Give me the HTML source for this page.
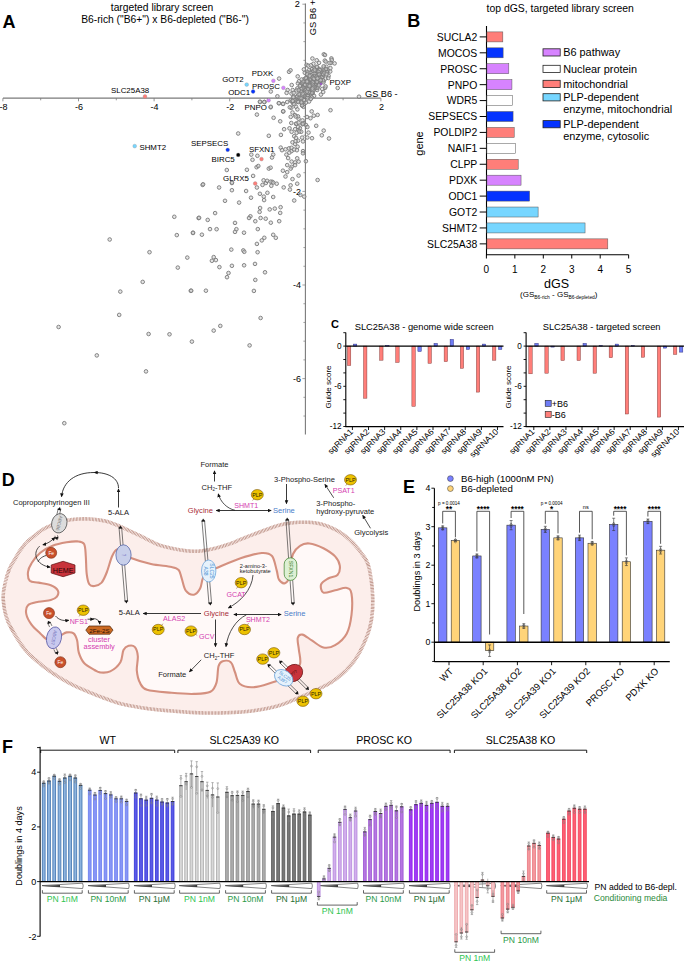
<!DOCTYPE html>
<html><head><meta charset="utf-8"><style>
html,body{margin:0;padding:0;background:#fff;}
svg{display:block;font-family:"Liberation Sans",sans-serif;}
</style></head><body>
<svg width="685" height="962" viewBox="0 0 685 962"><defs><marker id="ah" viewBox="0 0 10 10" refX="8" refY="5" markerUnits="userSpaceOnUse" markerWidth="4" markerHeight="4" orient="auto-start-reverse"><path d="M0,0.5 L10,5 L0,9.5z" fill="#111"/></marker></defs>
<text x="2.50" y="27.60" font-size="18" text-anchor="start" fill="#000" font-weight="bold" >A</text>
<text x="162.00" y="10.60" font-size="10.3" text-anchor="middle" fill="#000" font-weight="normal" >targeted library screen</text>
<text x="165.00" y="23.10" font-size="10.3" text-anchor="middle" fill="#000" font-weight="normal" >B6-rich ("B6+") x B6-depleted ("B6-")</text>
<line x1="3.00" y1="98.10" x2="380.70" y2="98.10" stroke="#7a7a7a" stroke-width="1.1" />
<line x1="305.40" y1="3.60" x2="305.40" y2="434.50" stroke="#7a7a7a" stroke-width="1.1" />
<line x1="2.90" y1="98.10" x2="2.90" y2="101.30" stroke="#7a7a7a" stroke-width="0.8" />
<line x1="40.70" y1="98.10" x2="40.70" y2="100.30" stroke="#7a7a7a" stroke-width="0.8" />
<line x1="78.50" y1="98.10" x2="78.50" y2="101.30" stroke="#7a7a7a" stroke-width="0.8" />
<line x1="116.30" y1="98.10" x2="116.30" y2="100.30" stroke="#7a7a7a" stroke-width="0.8" />
<line x1="154.10" y1="98.10" x2="154.10" y2="101.30" stroke="#7a7a7a" stroke-width="0.8" />
<line x1="191.90" y1="98.10" x2="191.90" y2="100.30" stroke="#7a7a7a" stroke-width="0.8" />
<line x1="229.70" y1="98.10" x2="229.70" y2="101.30" stroke="#7a7a7a" stroke-width="0.8" />
<line x1="267.50" y1="98.10" x2="267.50" y2="100.30" stroke="#7a7a7a" stroke-width="0.8" />
<line x1="343.10" y1="98.10" x2="343.10" y2="100.30" stroke="#7a7a7a" stroke-width="0.8" />
<line x1="380.90" y1="98.10" x2="380.90" y2="101.30" stroke="#7a7a7a" stroke-width="0.8" />
<line x1="303.40" y1="416.04" x2="305.40" y2="416.04" stroke="#7a7a7a" stroke-width="0.7" />
<line x1="303.40" y1="397.32" x2="305.40" y2="397.32" stroke="#7a7a7a" stroke-width="0.7" />
<line x1="302.40" y1="378.60" x2="305.40" y2="378.60" stroke="#7a7a7a" stroke-width="0.7" />
<line x1="303.40" y1="359.88" x2="305.40" y2="359.88" stroke="#7a7a7a" stroke-width="0.7" />
<line x1="303.40" y1="341.16" x2="305.40" y2="341.16" stroke="#7a7a7a" stroke-width="0.7" />
<line x1="303.40" y1="322.44" x2="305.40" y2="322.44" stroke="#7a7a7a" stroke-width="0.7" />
<line x1="303.40" y1="303.72" x2="305.40" y2="303.72" stroke="#7a7a7a" stroke-width="0.7" />
<line x1="302.40" y1="285.00" x2="305.40" y2="285.00" stroke="#7a7a7a" stroke-width="0.7" />
<line x1="303.40" y1="266.28" x2="305.40" y2="266.28" stroke="#7a7a7a" stroke-width="0.7" />
<line x1="303.40" y1="247.56" x2="305.40" y2="247.56" stroke="#7a7a7a" stroke-width="0.7" />
<line x1="303.40" y1="228.84" x2="305.40" y2="228.84" stroke="#7a7a7a" stroke-width="0.7" />
<line x1="303.40" y1="210.12" x2="305.40" y2="210.12" stroke="#7a7a7a" stroke-width="0.7" />
<line x1="302.40" y1="191.40" x2="305.40" y2="191.40" stroke="#7a7a7a" stroke-width="0.7" />
<line x1="303.40" y1="172.68" x2="305.40" y2="172.68" stroke="#7a7a7a" stroke-width="0.7" />
<line x1="303.40" y1="153.96" x2="305.40" y2="153.96" stroke="#7a7a7a" stroke-width="0.7" />
<line x1="303.40" y1="135.24" x2="305.40" y2="135.24" stroke="#7a7a7a" stroke-width="0.7" />
<line x1="303.40" y1="116.52" x2="305.40" y2="116.52" stroke="#7a7a7a" stroke-width="0.7" />
<line x1="303.40" y1="79.08" x2="305.40" y2="79.08" stroke="#7a7a7a" stroke-width="0.7" />
<line x1="303.40" y1="60.36" x2="305.40" y2="60.36" stroke="#7a7a7a" stroke-width="0.7" />
<line x1="303.40" y1="41.64" x2="305.40" y2="41.64" stroke="#7a7a7a" stroke-width="0.7" />
<line x1="303.40" y1="22.92" x2="305.40" y2="22.92" stroke="#7a7a7a" stroke-width="0.7" />
<line x1="302.40" y1="4.20" x2="305.40" y2="4.20" stroke="#7a7a7a" stroke-width="0.7" />
<text x="3.40" y="110.30" font-size="9" text-anchor="middle" fill="#000" font-weight="normal" >-8</text>
<text x="79.00" y="110.30" font-size="9" text-anchor="middle" fill="#000" font-weight="normal" >-6</text>
<text x="154.60" y="110.30" font-size="9" text-anchor="middle" fill="#000" font-weight="normal" >-4</text>
<text x="230.20" y="110.30" font-size="9" text-anchor="middle" fill="#000" font-weight="normal" >-2</text>
<text x="381.40" y="110.30" font-size="9" text-anchor="middle" fill="#000" font-weight="normal" >2</text>
<text x="301.00" y="194.60" font-size="9" text-anchor="end" fill="#000" font-weight="normal" >-2</text>
<text x="301.00" y="288.20" font-size="9" text-anchor="end" fill="#000" font-weight="normal" >-4</text>
<text x="301.00" y="381.80" font-size="9" text-anchor="end" fill="#000" font-weight="normal" >-6</text>
<text x="299.80" y="7.10" font-size="9.2" text-anchor="end" fill="#000" font-weight="normal" >2</text>
<text x="0" y="0" font-size="9.3" transform="translate(315.8,35.3) rotate(-90)">GS B6 +</text>
<text x="365.00" y="96.50" font-size="9.2" text-anchor="start" fill="#000" font-weight="normal" >GS B6 -</text>
<g fill="#cfcfcf" fill-opacity="0.55" stroke="#7e7e7e" stroke-width="0.95"><circle cx="174.3" cy="216.8" r="1.8"/><circle cx="198.6" cy="218.1" r="1.8"/><circle cx="109.7" cy="239.5" r="1.8"/><circle cx="176.8" cy="235.1" r="1.8"/><circle cx="193.0" cy="233.0" r="1.8"/><circle cx="149.5" cy="252.2" r="1.8"/><circle cx="187.3" cy="257.6" r="1.8"/><circle cx="177.8" cy="267.6" r="1.8"/><circle cx="142.7" cy="281.9" r="1.8"/><circle cx="120.3" cy="291.6" r="1.8"/><circle cx="190.8" cy="290.8" r="1.8"/><circle cx="119.2" cy="314.9" r="1.8"/><circle cx="58.6" cy="327.0" r="1.8"/><circle cx="148.6" cy="334.0" r="1.8"/><circle cx="169.5" cy="334.3" r="1.8"/><circle cx="191.9" cy="341.6" r="1.8"/><circle cx="96.8" cy="355.4" r="1.8"/><circle cx="146.0" cy="371.4" r="1.8"/><circle cx="64.3" cy="423.2" r="1.8"/><circle cx="202.6" cy="184.9" r="1.8"/><circle cx="219.1" cy="187.5" r="1.8"/><circle cx="231.9" cy="183.0" r="1.8"/><circle cx="231.9" cy="190.2" r="1.8"/><circle cx="246.1" cy="191.0" r="1.8"/><circle cx="256.9" cy="187.5" r="1.8"/><circle cx="262.5" cy="184.9" r="1.8"/><circle cx="265.9" cy="183.0" r="1.8"/><circle cx="271.3" cy="185.8" r="1.8"/><circle cx="276.7" cy="183.7" r="1.8"/><circle cx="272.2" cy="181.8" r="1.8"/><circle cx="283.7" cy="187.4" r="1.8"/><circle cx="290.6" cy="185.3" r="1.8"/><circle cx="297.2" cy="183.7" r="1.8"/><circle cx="289.9" cy="189.6" r="1.8"/><circle cx="300.4" cy="194.9" r="1.8"/><circle cx="304.2" cy="196.6" r="1.8"/><circle cx="294.2" cy="200.5" r="1.8"/><circle cx="259.9" cy="193.8" r="1.8"/><circle cx="267.4" cy="192.8" r="1.8"/><circle cx="263.8" cy="196.6" r="1.8"/><circle cx="264.1" cy="200.1" r="1.8"/><circle cx="273.2" cy="197.0" r="1.8"/><circle cx="251.0" cy="197.7" r="1.8"/><circle cx="225.0" cy="200.8" r="1.8"/><circle cx="239.1" cy="202.6" r="1.8"/><circle cx="260.1" cy="208.0" r="1.8"/><circle cx="259.6" cy="211.9" r="1.8"/><circle cx="269.7" cy="209.4" r="1.8"/><circle cx="274.8" cy="208.6" r="1.8"/><circle cx="280.6" cy="207.2" r="1.8"/><circle cx="280.2" cy="212.9" r="1.8"/><circle cx="215.1" cy="213.1" r="1.8"/><circle cx="199.1" cy="217.8" r="1.8"/><circle cx="207.7" cy="219.9" r="1.8"/><circle cx="250.4" cy="216.3" r="1.8"/><circle cx="249.0" cy="218.0" r="1.8"/><circle cx="255.3" cy="221.2" r="1.8"/><circle cx="260.6" cy="218.0" r="1.8"/><circle cx="265.7" cy="218.7" r="1.8"/><circle cx="270.8" cy="222.7" r="1.8"/><circle cx="279.2" cy="221.2" r="1.8"/><circle cx="235.0" cy="222.9" r="1.8"/><circle cx="210.0" cy="229.1" r="1.8"/><circle cx="216.6" cy="229.2" r="1.8"/><circle cx="236.4" cy="229.2" r="1.8"/><circle cx="235.0" cy="231.9" r="1.8"/><circle cx="244.0" cy="232.7" r="1.8"/><circle cx="257.8" cy="229.1" r="1.8"/><circle cx="193.0" cy="232.7" r="1.8"/><circle cx="201.9" cy="234.7" r="1.8"/><circle cx="273.2" cy="234.8" r="1.8"/><circle cx="275.8" cy="237.8" r="1.8"/><circle cx="264.3" cy="237.8" r="1.8"/><circle cx="261.8" cy="240.4" r="1.8"/><circle cx="256.9" cy="243.9" r="1.8"/><circle cx="231.3" cy="249.6" r="1.8"/><circle cx="243.3" cy="250.4" r="1.8"/><circle cx="244.3" cy="251.8" r="1.8"/><circle cx="257.6" cy="252.2" r="1.8"/><circle cx="213.7" cy="257.1" r="1.8"/><circle cx="211.9" cy="260.8" r="1.8"/><circle cx="215.9" cy="260.1" r="1.8"/><circle cx="219.4" cy="267.1" r="1.8"/><circle cx="231.9" cy="265.8" r="1.8"/><circle cx="244.1" cy="265.3" r="1.8"/><circle cx="255.0" cy="263.9" r="1.8"/><circle cx="265.0" cy="272.3" r="1.8"/><circle cx="228.5" cy="273.0" r="1.8"/><circle cx="227.0" cy="277.2" r="1.8"/><circle cx="255.3" cy="279.9" r="1.8"/><circle cx="191.2" cy="290.7" r="1.8"/><circle cx="205.9" cy="290.7" r="1.8"/><circle cx="253.9" cy="290.9" r="1.8"/><circle cx="260.1" cy="102.0" r="1.8"/><circle cx="264.5" cy="102.0" r="1.8"/><circle cx="270.6" cy="107.3" r="1.8"/><circle cx="279.0" cy="103.2" r="1.8"/><circle cx="282.9" cy="103.8" r="1.8"/><circle cx="287.2" cy="102.0" r="1.8"/><circle cx="290.7" cy="100.3" r="1.8"/><circle cx="256.9" cy="114.6" r="1.8"/><circle cx="273.6" cy="117.8" r="1.8"/><circle cx="280.2" cy="121.3" r="1.8"/><circle cx="283.2" cy="111.6" r="1.8"/><circle cx="291.3" cy="107.8" r="1.8"/><circle cx="292.5" cy="112.5" r="1.8"/><circle cx="290.7" cy="116.9" r="1.8"/><circle cx="295.1" cy="115.1" r="1.8"/><circle cx="298.6" cy="118.7" r="1.8"/><circle cx="291.3" cy="123.0" r="1.8"/><circle cx="296.0" cy="123.9" r="1.8"/><circle cx="303.9" cy="123.0" r="1.8"/><circle cx="284.1" cy="129.2" r="1.8"/><circle cx="289.5" cy="128.3" r="1.8"/><circle cx="291.6" cy="131.8" r="1.8"/><circle cx="295.1" cy="129.2" r="1.8"/><circle cx="298.6" cy="130.0" r="1.8"/><circle cx="301.2" cy="131.8" r="1.8"/><circle cx="238.2" cy="133.5" r="1.8"/><circle cx="268.8" cy="135.8" r="1.8"/><circle cx="280.9" cy="134.9" r="1.8"/><circle cx="294.2" cy="136.2" r="1.8"/><circle cx="296.0" cy="137.9" r="1.8"/><circle cx="302.1" cy="137.6" r="1.8"/><circle cx="292.5" cy="142.3" r="1.8"/><circle cx="295.1" cy="144.1" r="1.8"/><circle cx="303.0" cy="141.4" r="1.8"/><circle cx="280.7" cy="147.6" r="1.8"/><circle cx="282.0" cy="150.2" r="1.8"/><circle cx="285.5" cy="149.3" r="1.8"/><circle cx="289.0" cy="148.4" r="1.8"/><circle cx="291.6" cy="151.1" r="1.8"/><circle cx="296.9" cy="150.2" r="1.8"/><circle cx="303.0" cy="151.1" r="1.8"/><circle cx="251.3" cy="154.6" r="1.8"/><circle cx="257.4" cy="155.8" r="1.8"/><circle cx="273.2" cy="154.6" r="1.8"/><circle cx="272.0" cy="157.5" r="1.8"/><circle cx="252.5" cy="159.8" r="1.8"/><circle cx="286.4" cy="154.6" r="1.8"/><circle cx="288.1" cy="158.1" r="1.8"/><circle cx="291.6" cy="161.6" r="1.8"/><circle cx="295.1" cy="162.4" r="1.8"/><circle cx="298.6" cy="161.6" r="1.8"/><circle cx="287.2" cy="165.1" r="1.8"/><circle cx="291.6" cy="166.8" r="1.8"/><circle cx="295.1" cy="165.1" r="1.8"/><circle cx="226.8" cy="170.0" r="1.8"/><circle cx="246.9" cy="169.8" r="1.8"/><circle cx="256.6" cy="167.2" r="1.8"/><circle cx="258.3" cy="166.0" r="1.8"/><circle cx="268.8" cy="168.6" r="1.8"/><circle cx="270.6" cy="167.7" r="1.8"/><circle cx="282.9" cy="170.7" r="1.8"/><circle cx="287.2" cy="172.1" r="1.8"/><circle cx="290.7" cy="168.6" r="1.8"/><circle cx="285.5" cy="176.5" r="1.8"/><circle cx="292.5" cy="179.1" r="1.8"/><circle cx="298.6" cy="175.6" r="1.8"/><circle cx="253.1" cy="175.9" r="1.8"/><circle cx="263.6" cy="180.3" r="1.8"/><circle cx="267.1" cy="180.8" r="1.8"/><circle cx="270.6" cy="181.7" r="1.8"/><circle cx="273.2" cy="182.6" r="1.8"/><circle cx="232.0" cy="182.6" r="1.8"/><circle cx="203.1" cy="184.3" r="1.8"/><circle cx="359.0" cy="96.7" r="1.8"/><circle cx="330.5" cy="110.2" r="1.8"/><circle cx="311.7" cy="111.4" r="1.8"/><circle cx="313.8" cy="115.7" r="1.8"/><circle cx="317.6" cy="114.9" r="1.8"/><circle cx="316.2" cy="125.8" r="1.8"/><circle cx="323.7" cy="130.6" r="1.8"/><circle cx="321.8" cy="135.3" r="1.8"/><circle cx="329.0" cy="138.5" r="1.8"/><circle cx="312.0" cy="138.2" r="1.8"/><circle cx="307.3" cy="137.5" r="1.8"/><circle cx="308.5" cy="132.6" r="1.8"/><circle cx="306.0" cy="125.0" r="1.8"/><circle cx="317.6" cy="180.0" r="1.8"/><circle cx="323.8" cy="54.3" r="1.8"/><circle cx="331.4" cy="58.4" r="1.8"/><circle cx="331.8" cy="59.9" r="1.8"/><circle cx="331.0" cy="63.0" r="1.8"/><circle cx="324.8" cy="60.6" r="1.8"/><circle cx="319.0" cy="62.8" r="1.8"/><circle cx="313.4" cy="63.8" r="1.8"/><circle cx="330.2" cy="71.5" r="1.8"/><circle cx="337.7" cy="88.0" r="1.8"/><circle cx="279.1" cy="78.6" r="1.8"/><circle cx="270.8" cy="91.5" r="1.8"/><circle cx="277.4" cy="96.3" r="1.8"/><circle cx="259.9" cy="101.7" r="1.8"/><circle cx="264.2" cy="102.0" r="1.8"/><circle cx="270.8" cy="106.8" r="1.8"/><circle cx="278.8" cy="103.2" r="1.8"/><circle cx="283.2" cy="103.9" r="1.8"/><circle cx="283.2" cy="111.2" r="1.8"/><circle cx="289.0" cy="71.8" r="1.8"/><circle cx="290.5" cy="70.3" r="1.8"/><circle cx="287.6" cy="90.0" r="1.8"/><circle cx="292.7" cy="90.0" r="1.8"/><circle cx="260.6" cy="318.0" r="1.8"/><circle cx="220.3" cy="325.9" r="1.8"/><circle cx="213.7" cy="330.6" r="1.8"/><circle cx="249.6" cy="345.4" r="1.8"/><circle cx="311.5" cy="88.1" r="1.8"/><circle cx="308.0" cy="85.0" r="1.8"/><circle cx="303.6" cy="91.8" r="1.8"/><circle cx="320.6" cy="75.3" r="1.8"/><circle cx="319.3" cy="75.3" r="1.8"/><circle cx="314.6" cy="81.0" r="1.8"/><circle cx="303.2" cy="102.2" r="1.8"/><circle cx="316.7" cy="81.1" r="1.8"/><circle cx="291.5" cy="93.6" r="1.8"/><circle cx="302.7" cy="90.6" r="1.8"/><circle cx="312.9" cy="81.0" r="1.8"/><circle cx="311.8" cy="77.1" r="1.8"/><circle cx="314.9" cy="82.5" r="1.8"/><circle cx="314.1" cy="95.9" r="1.8"/><circle cx="320.2" cy="83.0" r="1.8"/><circle cx="303.4" cy="87.2" r="1.8"/><circle cx="308.1" cy="86.8" r="1.8"/><circle cx="316.5" cy="79.1" r="1.8"/><circle cx="303.6" cy="84.9" r="1.8"/><circle cx="312.8" cy="92.9" r="1.8"/><circle cx="306.5" cy="92.2" r="1.8"/><circle cx="307.3" cy="75.0" r="1.8"/><circle cx="317.2" cy="88.0" r="1.8"/><circle cx="295.5" cy="101.4" r="1.8"/><circle cx="306.6" cy="82.2" r="1.8"/><circle cx="314.2" cy="79.2" r="1.8"/><circle cx="304.5" cy="100.2" r="1.8"/><circle cx="319.9" cy="81.1" r="1.8"/><circle cx="322.6" cy="72.0" r="1.8"/><circle cx="306.0" cy="78.5" r="1.8"/><circle cx="312.6" cy="76.3" r="1.8"/><circle cx="302.2" cy="83.9" r="1.8"/><circle cx="301.9" cy="91.1" r="1.8"/><circle cx="310.9" cy="65.3" r="1.8"/><circle cx="301.9" cy="98.2" r="1.8"/><circle cx="323.6" cy="72.7" r="1.8"/><circle cx="286.6" cy="92.9" r="1.8"/><circle cx="310.2" cy="78.2" r="1.8"/><circle cx="307.6" cy="97.6" r="1.8"/><circle cx="319.4" cy="74.4" r="1.8"/><circle cx="314.6" cy="83.2" r="1.8"/><circle cx="324.9" cy="71.5" r="1.8"/><circle cx="317.1" cy="81.1" r="1.8"/><circle cx="305.8" cy="102.7" r="1.8"/><circle cx="320.0" cy="77.0" r="1.8"/><circle cx="294.4" cy="99.9" r="1.8"/><circle cx="308.8" cy="70.2" r="1.8"/><circle cx="314.3" cy="89.1" r="1.8"/><circle cx="309.1" cy="101.5" r="1.8"/><circle cx="314.2" cy="78.4" r="1.8"/><circle cx="316.2" cy="83.2" r="1.8"/><circle cx="316.9" cy="86.8" r="1.8"/><circle cx="304.5" cy="88.7" r="1.8"/><circle cx="318.4" cy="74.6" r="1.8"/><circle cx="309.1" cy="95.3" r="1.8"/><circle cx="319.2" cy="69.1" r="1.8"/><circle cx="300.8" cy="96.2" r="1.8"/><circle cx="308.6" cy="84.4" r="1.8"/><circle cx="316.2" cy="67.7" r="1.8"/><circle cx="314.1" cy="68.2" r="1.8"/><circle cx="308.3" cy="93.3" r="1.8"/><circle cx="322.7" cy="76.6" r="1.8"/><circle cx="314.0" cy="81.3" r="1.8"/><circle cx="314.6" cy="84.6" r="1.8"/><circle cx="311.0" cy="86.6" r="1.8"/><circle cx="315.0" cy="78.8" r="1.8"/><circle cx="318.8" cy="78.9" r="1.8"/><circle cx="326.4" cy="66.7" r="1.8"/><circle cx="306.4" cy="86.7" r="1.8"/><circle cx="315.0" cy="87.3" r="1.8"/><circle cx="310.4" cy="88.4" r="1.8"/><circle cx="312.4" cy="58.5" r="1.8"/><circle cx="304.3" cy="95.1" r="1.8"/><circle cx="314.8" cy="81.2" r="1.8"/><circle cx="310.9" cy="90.2" r="1.8"/><circle cx="310.6" cy="79.6" r="1.8"/><circle cx="329.5" cy="63.0" r="1.8"/><circle cx="306.7" cy="88.7" r="1.8"/><circle cx="309.2" cy="85.9" r="1.8"/><circle cx="289.8" cy="107.3" r="1.8"/><circle cx="312.8" cy="70.8" r="1.8"/><circle cx="314.8" cy="87.8" r="1.8"/><circle cx="323.6" cy="81.2" r="1.8"/><circle cx="297.6" cy="98.4" r="1.8"/><circle cx="311.4" cy="89.2" r="1.8"/><circle cx="306.6" cy="64.9" r="1.8"/><circle cx="312.1" cy="69.1" r="1.8"/><circle cx="309.1" cy="72.7" r="1.8"/><circle cx="317.6" cy="86.4" r="1.8"/><circle cx="310.8" cy="86.0" r="1.8"/><circle cx="317.2" cy="77.2" r="1.8"/><circle cx="317.2" cy="90.0" r="1.8"/><circle cx="317.0" cy="73.4" r="1.8"/><circle cx="325.0" cy="55.0" r="1.8"/><circle cx="316.2" cy="74.7" r="1.8"/><circle cx="315.1" cy="85.2" r="1.8"/><circle cx="315.4" cy="84.1" r="1.8"/><circle cx="293.6" cy="92.9" r="1.8"/><circle cx="311.0" cy="75.1" r="1.8"/><circle cx="297.3" cy="88.4" r="1.8"/><circle cx="323.1" cy="74.9" r="1.8"/><circle cx="317.1" cy="67.3" r="1.8"/><circle cx="305.9" cy="80.1" r="1.8"/><circle cx="323.4" cy="82.4" r="1.8"/><circle cx="311.8" cy="97.4" r="1.8"/><circle cx="317.1" cy="74.4" r="1.8"/><circle cx="303.5" cy="106.8" r="1.8"/><circle cx="307.6" cy="82.8" r="1.8"/><circle cx="315.6" cy="81.7" r="1.8"/><circle cx="316.9" cy="66.8" r="1.8"/><circle cx="325.5" cy="78.6" r="1.8"/><circle cx="320.3" cy="70.1" r="1.8"/><circle cx="310.4" cy="94.3" r="1.8"/><circle cx="312.4" cy="83.4" r="1.8"/><circle cx="319.7" cy="70.1" r="1.8"/><circle cx="293.3" cy="103.7" r="1.8"/><circle cx="301.8" cy="103.7" r="1.8"/><circle cx="310.5" cy="79.0" r="1.8"/><circle cx="314.6" cy="86.9" r="1.8"/><circle cx="317.5" cy="87.8" r="1.8"/><circle cx="315.2" cy="88.1" r="1.8"/><circle cx="328.6" cy="75.8" r="1.8"/><circle cx="310.2" cy="93.1" r="1.8"/><circle cx="293.1" cy="97.5" r="1.8"/><circle cx="302.1" cy="105.6" r="1.8"/><circle cx="302.4" cy="95.2" r="1.8"/><circle cx="309.5" cy="85.7" r="1.8"/><circle cx="307.9" cy="90.2" r="1.8"/><circle cx="323.7" cy="67.7" r="1.8"/><circle cx="319.2" cy="82.5" r="1.8"/><circle cx="304.0" cy="81.5" r="1.8"/><circle cx="311.9" cy="92.7" r="1.8"/><circle cx="296.9" cy="97.0" r="1.8"/><circle cx="321.5" cy="77.5" r="1.8"/><circle cx="314.6" cy="86.7" r="1.8"/><circle cx="306.9" cy="78.5" r="1.8"/><circle cx="297.3" cy="96.2" r="1.8"/><circle cx="314.9" cy="73.6" r="1.8"/><circle cx="301.3" cy="89.6" r="1.8"/><circle cx="299.8" cy="97.6" r="1.8"/><circle cx="304.4" cy="96.0" r="1.8"/><circle cx="296.0" cy="106.7" r="1.8"/><circle cx="297.9" cy="83.3" r="1.8"/><circle cx="314.8" cy="76.4" r="1.8"/><circle cx="291.6" cy="101.5" r="1.8"/><circle cx="311.0" cy="79.8" r="1.8"/><circle cx="319.8" cy="79.4" r="1.8"/><circle cx="317.1" cy="79.0" r="1.8"/><circle cx="323.2" cy="74.0" r="1.8"/><circle cx="304.8" cy="72.8" r="1.8"/><circle cx="323.1" cy="80.2" r="1.8"/><circle cx="306.8" cy="85.1" r="1.8"/><circle cx="316.7" cy="60.3" r="1.8"/><circle cx="325.1" cy="87.9" r="1.8"/><circle cx="307.6" cy="94.8" r="1.8"/><circle cx="323.6" cy="66.3" r="1.8"/><circle cx="318.9" cy="81.9" r="1.8"/><circle cx="304.3" cy="92.0" r="1.8"/><circle cx="316.7" cy="84.1" r="1.8"/><circle cx="309.9" cy="83.7" r="1.8"/><circle cx="302.3" cy="92.1" r="1.8"/><circle cx="317.7" cy="76.2" r="1.8"/><circle cx="301.3" cy="89.0" r="1.8"/><circle cx="334.6" cy="63.4" r="1.8"/><circle cx="303.9" cy="69.4" r="1.8"/><circle cx="317.5" cy="79.9" r="1.8"/><circle cx="324.6" cy="70.0" r="1.8"/><circle cx="312.9" cy="86.4" r="1.8"/><circle cx="302.1" cy="105.3" r="1.8"/><circle cx="310.1" cy="78.6" r="1.8"/><circle cx="328.3" cy="78.0" r="1.8"/><circle cx="298.3" cy="94.6" r="1.8"/><circle cx="313.8" cy="82.0" r="1.8"/><circle cx="303.9" cy="84.3" r="1.8"/><circle cx="330.4" cy="68.1" r="1.8"/><circle cx="296.7" cy="90.4" r="1.8"/><circle cx="327.3" cy="71.8" r="1.8"/><circle cx="327.3" cy="70.1" r="1.8"/><circle cx="306.1" cy="92.9" r="1.8"/><circle cx="292.6" cy="101.2" r="1.8"/><circle cx="312.9" cy="86.3" r="1.8"/><circle cx="305.4" cy="90.2" r="1.8"/><circle cx="315.9" cy="81.1" r="1.8"/><circle cx="316.4" cy="78.9" r="1.8"/><circle cx="312.3" cy="89.6" r="1.8"/><circle cx="307.7" cy="80.7" r="1.8"/><circle cx="306.6" cy="89.7" r="1.8"/><circle cx="310.9" cy="85.5" r="1.8"/><circle cx="311.8" cy="84.6" r="1.8"/><circle cx="304.5" cy="81.0" r="1.8"/><circle cx="318.6" cy="83.7" r="1.8"/><circle cx="313.2" cy="79.4" r="1.8"/><circle cx="309.8" cy="76.6" r="1.8"/><circle cx="298.1" cy="101.6" r="1.8"/><circle cx="307.8" cy="95.0" r="1.8"/><circle cx="291.7" cy="85.0" r="1.8"/><circle cx="310.8" cy="98.9" r="1.8"/><circle cx="302.2" cy="82.9" r="1.8"/><circle cx="308.0" cy="92.8" r="1.8"/><circle cx="315.2" cy="80.0" r="1.8"/><circle cx="324.5" cy="72.8" r="1.8"/><circle cx="313.5" cy="86.2" r="1.8"/><circle cx="326.8" cy="72.1" r="1.8"/><circle cx="313.3" cy="71.0" r="1.8"/><circle cx="313.2" cy="87.8" r="1.8"/><circle cx="313.7" cy="90.3" r="1.8"/><circle cx="319.2" cy="81.6" r="1.8"/><circle cx="320.9" cy="94.6" r="1.8"/><circle cx="318.7" cy="71.9" r="1.8"/><circle cx="323.2" cy="92.0" r="1.8"/><circle cx="312.5" cy="90.1" r="1.8"/><circle cx="317.9" cy="75.0" r="1.8"/><circle cx="303.7" cy="95.3" r="1.8"/><circle cx="318.5" cy="84.5" r="1.8"/><circle cx="316.6" cy="76.9" r="1.8"/><circle cx="319.3" cy="78.0" r="1.8"/><circle cx="312.7" cy="82.3" r="1.8"/><circle cx="312.4" cy="88.6" r="1.8"/><circle cx="300.9" cy="91.5" r="1.8"/><circle cx="304.5" cy="79.0" r="1.8"/><circle cx="299.0" cy="81.2" r="1.8"/><circle cx="308.8" cy="92.2" r="1.8"/><circle cx="314.7" cy="78.6" r="1.8"/><circle cx="303.1" cy="81.3" r="1.8"/><circle cx="326.0" cy="69.0" r="1.8"/><circle cx="314.7" cy="71.0" r="1.8"/><circle cx="301.6" cy="79.5" r="1.8"/><circle cx="320.6" cy="80.0" r="1.8"/><circle cx="297.6" cy="101.2" r="1.8"/><circle cx="307.5" cy="72.3" r="1.8"/><circle cx="293.5" cy="97.1" r="1.8"/><circle cx="300.4" cy="85.0" r="1.8"/><circle cx="312.3" cy="84.6" r="1.8"/><circle cx="318.5" cy="80.6" r="1.8"/><circle cx="326.6" cy="74.2" r="1.8"/><circle cx="299.6" cy="94.3" r="1.8"/><circle cx="298.8" cy="90.1" r="1.8"/><circle cx="310.5" cy="84.8" r="1.8"/><circle cx="307.3" cy="74.1" r="1.8"/><circle cx="302.3" cy="95.3" r="1.8"/><circle cx="308.2" cy="84.8" r="1.8"/><circle cx="307.2" cy="82.0" r="1.8"/><circle cx="317.5" cy="78.8" r="1.8"/><circle cx="307.4" cy="82.5" r="1.8"/><circle cx="297.7" cy="76.4" r="1.8"/><circle cx="304.3" cy="93.1" r="1.8"/><circle cx="301.4" cy="98.4" r="1.8"/><circle cx="305.9" cy="78.0" r="1.8"/><circle cx="307.9" cy="85.2" r="1.8"/><circle cx="316.9" cy="81.9" r="1.8"/><circle cx="307.0" cy="81.4" r="1.8"/><circle cx="309.7" cy="85.1" r="1.8"/><circle cx="317.4" cy="78.3" r="1.8"/><circle cx="299.9" cy="86.0" r="1.8"/><circle cx="305.1" cy="84.9" r="1.8"/><circle cx="302.7" cy="93.8" r="1.8"/><circle cx="308.1" cy="88.9" r="1.8"/><circle cx="312.8" cy="77.8" r="1.8"/><circle cx="325.7" cy="61.6" r="1.8"/><circle cx="319.2" cy="74.3" r="1.8"/><circle cx="308.2" cy="65.7" r="1.8"/><circle cx="306.9" cy="91.7" r="1.8"/><circle cx="325.6" cy="86.4" r="1.8"/><circle cx="319.0" cy="85.4" r="1.8"/><circle cx="320.6" cy="80.2" r="1.8"/><circle cx="313.9" cy="78.8" r="1.8"/><circle cx="309.7" cy="75.7" r="1.8"/><circle cx="314.7" cy="69.7" r="1.8"/><circle cx="322.2" cy="88.9" r="1.8"/><circle cx="309.5" cy="86.1" r="1.8"/><circle cx="298.1" cy="140.7" r="1.8"/><circle cx="299.9" cy="128.3" r="1.8"/><circle cx="302.5" cy="120.4" r="1.8"/><circle cx="307.4" cy="127.0" r="1.8"/><circle cx="297.2" cy="158.3" r="1.8"/><circle cx="297.4" cy="109.4" r="1.8"/><circle cx="294.0" cy="149.5" r="1.8"/><circle cx="296.4" cy="123.6" r="1.8"/><circle cx="302.4" cy="124.3" r="1.8"/><circle cx="297.6" cy="146.7" r="1.8"/><circle cx="302.9" cy="123.7" r="1.8"/><circle cx="301.5" cy="101.7" r="1.8"/><circle cx="303.0" cy="153.3" r="1.8"/><circle cx="310.5" cy="118.2" r="1.8"/><circle cx="303.9" cy="100.1" r="1.8"/><circle cx="298.6" cy="122.7" r="1.8"/><circle cx="305.9" cy="161.2" r="1.8"/><circle cx="291.5" cy="147.8" r="1.8"/><circle cx="289.3" cy="152.7" r="1.8"/><circle cx="295.6" cy="141.2" r="1.8"/><circle cx="298.3" cy="102.1" r="1.8"/><circle cx="294.3" cy="104.2" r="1.8"/><circle cx="292.8" cy="100.8" r="1.8"/><circle cx="301.4" cy="102.5" r="1.8"/><circle cx="298.0" cy="116.4" r="1.8"/><circle cx="299.2" cy="131.6" r="1.8"/><circle cx="307.0" cy="117.0" r="1.8"/><circle cx="298.1" cy="126.9" r="1.8"/><circle cx="295.7" cy="116.5" r="1.8"/><circle cx="296.6" cy="132.8" r="1.8"/></g>
<circle cx="321" cy="84" r="1.2" fill="#9a5ac0"/>
<circle cx="145" cy="96.5" r="1.9" fill="#FF7E79" stroke="#888" stroke-width="0.3"/>
<circle cx="134.7" cy="146.1" r="1.9" fill="#76D6FF" stroke="#888" stroke-width="0.3"/>
<circle cx="246.7" cy="84.6" r="1.9" fill="#76D6FF" stroke="#888" stroke-width="0.3"/>
<circle cx="253.1" cy="91.5" r="1.9" fill="#0433FF" stroke="#888" stroke-width="0.3"/>
<circle cx="273.4" cy="80.8" r="1.9" fill="#D783FF" stroke="#888" stroke-width="0.3"/>
<circle cx="283.4" cy="87.8" r="1.9" fill="#D783FF" stroke="#888" stroke-width="0.3"/>
<circle cx="268.6" cy="100.3" r="1.9" fill="#D783FF" stroke="#888" stroke-width="0.3"/>
<circle cx="227.7" cy="149.8" r="1.9" fill="#0433FF" stroke="#888" stroke-width="0.3"/>
<circle cx="238.2" cy="154.9" r="1.9" fill="#000" stroke="#888" stroke-width="0.3"/>
<circle cx="261.5" cy="159.1" r="1.9" fill="#FF7E79" stroke="#888" stroke-width="0.3"/>
<circle cx="255.2" cy="183.5" r="1.9" fill="#FF7E79" stroke="#888" stroke-width="0.3"/>
<text x="111.00" y="92.80" font-size="7.9" text-anchor="start" fill="#000" font-weight="normal" >SLC25A38</text>
<text x="139.40" y="150.00" font-size="7.9" text-anchor="start" fill="#000" font-weight="normal" >SHMT2</text>
<text x="222.20" y="82.40" font-size="7.9" text-anchor="start" fill="#000" font-weight="normal" >GOT2</text>
<text x="228.20" y="94.70" font-size="7.9" text-anchor="start" fill="#000" font-weight="normal" >ODC1</text>
<text x="251.80" y="75.70" font-size="7.9" text-anchor="start" fill="#000" font-weight="normal" >PDXK</text>
<text x="252.00" y="88.90" font-size="7.9" text-anchor="start" fill="#000" font-weight="normal" >PROSC</text>
<text x="244.50" y="110.40" font-size="7.9" text-anchor="start" fill="#000" font-weight="normal" >PNPO</text>
<text x="329.60" y="85.00" font-size="7.9" text-anchor="start" fill="#000" font-weight="normal" >PDXP</text>
<text x="191.00" y="146.20" font-size="7.9" text-anchor="start" fill="#000" font-weight="normal" >SEPSECS</text>
<text x="211.50" y="162.00" font-size="7.9" text-anchor="start" fill="#000" font-weight="normal" >BIRC5</text>
<text x="249.00" y="152.00" font-size="7.9" text-anchor="start" fill="#000" font-weight="normal" >SFXN1</text>
<text x="223.00" y="181.00" font-size="7.9" text-anchor="start" fill="#000" font-weight="normal" >GLRX5</text>
<text x="407.30" y="26.60" font-size="18" text-anchor="start" fill="#000" font-weight="bold" >B</text>
<text x="486.60" y="11.50" font-size="10.4" text-anchor="start" fill="#000" font-weight="normal" >top dGS, targeted library screen</text>
<line x1="486.50" y1="26.00" x2="486.50" y2="255.30" stroke="#000" stroke-width="1.1" />
<line x1="486.00" y1="254.70" x2="628.60" y2="254.70" stroke="#000" stroke-width="1.1" />
<line x1="486.40" y1="254.70" x2="486.40" y2="258.50" stroke="#000" stroke-width="1" />
<text x="486.40" y="273.20" font-size="10" text-anchor="middle" fill="#000" font-weight="normal" >0</text>
<line x1="514.85" y1="254.70" x2="514.85" y2="258.50" stroke="#000" stroke-width="1" />
<text x="514.85" y="273.20" font-size="10" text-anchor="middle" fill="#000" font-weight="normal" >1</text>
<line x1="543.30" y1="254.70" x2="543.30" y2="258.50" stroke="#000" stroke-width="1" />
<text x="543.30" y="273.20" font-size="10" text-anchor="middle" fill="#000" font-weight="normal" >2</text>
<line x1="571.75" y1="254.70" x2="571.75" y2="258.50" stroke="#000" stroke-width="1" />
<text x="571.75" y="273.20" font-size="10" text-anchor="middle" fill="#000" font-weight="normal" >3</text>
<line x1="600.20" y1="254.70" x2="600.20" y2="258.50" stroke="#000" stroke-width="1" />
<text x="600.20" y="273.20" font-size="10" text-anchor="middle" fill="#000" font-weight="normal" >4</text>
<line x1="628.65" y1="254.70" x2="628.65" y2="258.50" stroke="#000" stroke-width="1" />
<text x="628.65" y="273.20" font-size="10" text-anchor="middle" fill="#000" font-weight="normal" >5</text>
<text x="556.50" y="288.30" font-size="12.5" text-anchor="middle" fill="#000" font-weight="normal" >dGS</text>
<text x="558.8" y="297.3" font-size="8.0" text-anchor="middle">(GS<tspan font-size="4.9" dy="1.4">B6-rich</tspan><tspan dy="-1.4"> - GS</tspan><tspan font-size="4.9" dy="1.4">B6-depleted</tspan><tspan dy="-1.4">)</tspan></text>
<text x="0" y="0" font-size="11" text-anchor="middle" transform="translate(422.5,143.5) rotate(-90)">gene</text>
<rect x="486.90" y="31.90" width="15.93" height="10.00" fill="#FF7E79" stroke="#555" stroke-width="0.5" />
<line x1="479.70" y1="36.90" x2="486.50" y2="36.90" stroke="#000" stroke-width="1" />
<text x="477.30" y="40.80" font-size="10.4" text-anchor="end" fill="#000" font-weight="normal" >SUCLA2</text>
<rect x="486.90" y="47.82" width="16.22" height="10.00" fill="#0433FF" stroke="#555" stroke-width="0.5" />
<line x1="479.70" y1="52.82" x2="486.50" y2="52.82" stroke="#000" stroke-width="1" />
<text x="477.30" y="56.72" font-size="10.4" text-anchor="end" fill="#000" font-weight="normal" >MOCOS</text>
<rect x="486.90" y="63.74" width="21.91" height="10.00" fill="#D783FF" stroke="#555" stroke-width="0.5" />
<line x1="479.70" y1="68.74" x2="486.50" y2="68.74" stroke="#000" stroke-width="1" />
<text x="477.30" y="72.64" font-size="10.4" text-anchor="end" fill="#000" font-weight="normal" >PROSC</text>
<rect x="486.90" y="79.66" width="25.04" height="10.00" fill="#D783FF" stroke="#555" stroke-width="0.5" />
<line x1="479.70" y1="84.66" x2="486.50" y2="84.66" stroke="#000" stroke-width="1" />
<text x="477.30" y="88.56" font-size="10.4" text-anchor="end" fill="#000" font-weight="normal" >PNPO</text>
<rect x="486.90" y="95.58" width="25.61" height="10.00" fill="#fff" stroke="#555" stroke-width="0.5" />
<line x1="479.70" y1="100.58" x2="486.50" y2="100.58" stroke="#000" stroke-width="1" />
<text x="477.30" y="104.48" font-size="10.4" text-anchor="end" fill="#000" font-weight="normal" >WDR5</text>
<rect x="486.90" y="111.50" width="26.17" height="10.00" fill="#0433FF" stroke="#555" stroke-width="0.5" />
<line x1="479.70" y1="116.50" x2="486.50" y2="116.50" stroke="#000" stroke-width="1" />
<text x="477.30" y="120.40" font-size="10.4" text-anchor="end" fill="#000" font-weight="normal" >SEPSECS</text>
<rect x="486.90" y="127.42" width="27.31" height="10.00" fill="#FF7E79" stroke="#555" stroke-width="0.5" />
<line x1="479.70" y1="132.42" x2="486.50" y2="132.42" stroke="#000" stroke-width="1" />
<text x="477.30" y="136.32" font-size="10.4" text-anchor="end" fill="#000" font-weight="normal" >POLDIP2</text>
<rect x="486.90" y="143.34" width="28.45" height="10.00" fill="#fff" stroke="#555" stroke-width="0.5" />
<line x1="479.70" y1="148.34" x2="486.50" y2="148.34" stroke="#000" stroke-width="1" />
<text x="477.30" y="152.24" font-size="10.4" text-anchor="end" fill="#000" font-weight="normal" >NAIF1</text>
<rect x="486.90" y="159.26" width="31.30" height="10.00" fill="#FF7E79" stroke="#555" stroke-width="0.5" />
<line x1="479.70" y1="164.26" x2="486.50" y2="164.26" stroke="#000" stroke-width="1" />
<text x="477.30" y="168.16" font-size="10.4" text-anchor="end" fill="#000" font-weight="normal" >CLPP</text>
<rect x="486.90" y="175.18" width="34.14" height="10.00" fill="#D783FF" stroke="#555" stroke-width="0.5" />
<line x1="479.70" y1="180.18" x2="486.50" y2="180.18" stroke="#000" stroke-width="1" />
<text x="477.30" y="184.08" font-size="10.4" text-anchor="end" fill="#000" font-weight="normal" >PDXK</text>
<rect x="486.90" y="191.10" width="42.67" height="10.00" fill="#0433FF" stroke="#555" stroke-width="0.5" />
<line x1="479.70" y1="196.10" x2="486.50" y2="196.10" stroke="#000" stroke-width="1" />
<text x="477.30" y="200.00" font-size="10.4" text-anchor="end" fill="#000" font-weight="normal" >ODC1</text>
<rect x="486.90" y="207.02" width="51.21" height="10.00" fill="#76D6FF" stroke="#555" stroke-width="0.5" />
<line x1="479.70" y1="212.02" x2="486.50" y2="212.02" stroke="#000" stroke-width="1" />
<text x="477.30" y="215.92" font-size="10.4" text-anchor="end" fill="#000" font-weight="normal" >GOT2</text>
<rect x="486.90" y="222.94" width="98.15" height="10.00" fill="#76D6FF" stroke="#555" stroke-width="0.5" />
<line x1="479.70" y1="227.94" x2="486.50" y2="227.94" stroke="#000" stroke-width="1" />
<text x="477.30" y="231.84" font-size="10.4" text-anchor="end" fill="#000" font-weight="normal" >SHMT2</text>
<rect x="486.90" y="238.86" width="120.91" height="10.00" fill="#FF7E79" stroke="#555" stroke-width="0.5" />
<line x1="479.70" y1="243.86" x2="486.50" y2="243.86" stroke="#000" stroke-width="1" />
<text x="477.30" y="247.76" font-size="10.4" text-anchor="end" fill="#000" font-weight="normal" >SLC25A38</text>
<rect x="543.00" y="48.80" width="17.20" height="7.20" fill="#D783FF" stroke="#222" stroke-width="0.8" />
<text x="563.20" y="56.10" font-size="10.9" text-anchor="start" fill="#000" font-weight="normal" >B6 pathway</text>
<rect x="543.00" y="65.30" width="17.20" height="7.20" fill="#fff" stroke="#222" stroke-width="0.8" />
<text x="563.20" y="72.60" font-size="10.9" text-anchor="start" fill="#000" font-weight="normal" >Nuclear protein</text>
<rect x="543.00" y="80.30" width="17.20" height="7.20" fill="#FF7E79" stroke="#222" stroke-width="0.8" />
<text x="563.20" y="87.60" font-size="10.9" text-anchor="start" fill="#000" font-weight="normal" >mitochondrial</text>
<rect x="543.00" y="93.70" width="17.20" height="7.20" fill="#76D6FF" stroke="#222" stroke-width="0.8" />
<text x="563.20" y="101.00" font-size="10.9" text-anchor="start" fill="#000" font-weight="normal" >PLP-dependent</text>
<rect x="543.00" y="120.60" width="17.20" height="7.20" fill="#0433FF" stroke="#222" stroke-width="0.8" />
<text x="563.20" y="127.90" font-size="10.9" text-anchor="start" fill="#000" font-weight="normal" >PLP-dependent</text>
<text x="563.20" y="113.30" font-size="10.9" text-anchor="start" fill="#000" font-weight="normal" >enzyme, mitochondrial</text>
<text x="563.20" y="140.20" font-size="10.9" text-anchor="start" fill="#000" font-weight="normal" >enzyme, cytosolic</text>
<text x="331.00" y="327.50" font-size="11" text-anchor="start" fill="#000" font-weight="bold" >C</text>
<text x="354.70" y="330.20" font-size="9.3" text-anchor="start" fill="#000" font-weight="normal" >SLC25A38 - genome wide screen</text>
<line x1="345.80" y1="332.50" x2="345.80" y2="427.00" stroke="#000" stroke-width="1.1" />
<line x1="343.30" y1="332.70" x2="345.80" y2="332.70" stroke="#000" stroke-width="0.9" />
<line x1="343.30" y1="346.10" x2="345.80" y2="346.10" stroke="#000" stroke-width="0.9" />
<line x1="343.30" y1="359.50" x2="345.80" y2="359.50" stroke="#000" stroke-width="0.9" />
<line x1="343.30" y1="372.90" x2="345.80" y2="372.90" stroke="#000" stroke-width="0.9" />
<line x1="343.30" y1="386.30" x2="345.80" y2="386.30" stroke="#000" stroke-width="0.9" />
<line x1="343.30" y1="399.70" x2="345.80" y2="399.70" stroke="#000" stroke-width="0.9" />
<line x1="343.30" y1="413.10" x2="345.80" y2="413.10" stroke="#000" stroke-width="0.9" />
<line x1="343.30" y1="426.50" x2="345.80" y2="426.50" stroke="#000" stroke-width="0.9" />
<text x="341.50" y="348.80" font-size="8.2" text-anchor="end" fill="#000" font-weight="normal" >0</text>
<text x="341.50" y="389.00" font-size="8.2" text-anchor="end" fill="#000" font-weight="normal" >-6</text>
<text x="341.50" y="429.20" font-size="8.2" text-anchor="end" fill="#000" font-weight="normal" >-12</text>
<text x="0" y="0" font-size="8" text-anchor="middle" transform="translate(331.0,387) rotate(-90)">Guide score</text>
<line x1="345.30" y1="426.60" x2="503.50" y2="426.60" stroke="#000" stroke-width="1.1" />
<rect x="347.40" y="346.10" width="3.40" height="19.40" fill="#FF7E79" stroke="#7a3a38" stroke-width="0.45" />
<rect x="353.40" y="344.09" width="3.40" height="2.01" fill="#6E7CF5" stroke="#2a2a7a" stroke-width="0.45" />
<line x1="352.40" y1="426.60" x2="352.40" y2="430.00" stroke="#000" stroke-width="0.9" />
<text x="0" y="0" font-size="8.5" text-anchor="end" transform="translate(353.7,432.3) rotate(-45)">sgRNA1</text>
<rect x="363.52" y="346.10" width="3.40" height="52.10" fill="#FF7E79" stroke="#7a3a38" stroke-width="0.45" />
<line x1="368.52" y1="426.60" x2="368.52" y2="430.00" stroke="#000" stroke-width="0.9" />
<text x="0" y="0" font-size="8.5" text-anchor="end" transform="translate(369.82,432.3) rotate(-45)">sgRNA2</text>
<rect x="379.64" y="346.10" width="3.40" height="14.10" fill="#FF7E79" stroke="#7a3a38" stroke-width="0.45" />
<rect x="385.64" y="345.43" width="3.40" height="0.67" fill="#6E7CF5" stroke="#2a2a7a" stroke-width="0.45" />
<line x1="384.64" y1="426.60" x2="384.64" y2="430.00" stroke="#000" stroke-width="0.9" />
<text x="0" y="0" font-size="8.5" text-anchor="end" transform="translate(385.94,432.3) rotate(-45)">sgRNA3</text>
<rect x="395.76" y="346.10" width="3.40" height="16.30" fill="#FF7E79" stroke="#7a3a38" stroke-width="0.45" />
<line x1="400.76" y1="426.60" x2="400.76" y2="430.00" stroke="#000" stroke-width="0.9" />
<text x="0" y="0" font-size="8.5" text-anchor="end" transform="translate(402.06,432.3) rotate(-45)">sgRNA4</text>
<rect x="411.88" y="346.10" width="3.40" height="60.20" fill="#FF7E79" stroke="#7a3a38" stroke-width="0.45" />
<rect x="417.88" y="346.10" width="3.40" height="5.36" fill="#6E7CF5" stroke="#2a2a7a" stroke-width="0.45" />
<line x1="416.88" y1="426.60" x2="416.88" y2="430.00" stroke="#000" stroke-width="0.9" />
<text x="0" y="0" font-size="8.5" text-anchor="end" transform="translate(418.18,432.3) rotate(-45)">sgRNA5</text>
<rect x="428.00" y="346.10" width="3.40" height="17.20" fill="#FF7E79" stroke="#7a3a38" stroke-width="0.45" />
<rect x="434.00" y="343.42" width="3.40" height="2.68" fill="#6E7CF5" stroke="#2a2a7a" stroke-width="0.45" />
<line x1="433.00" y1="426.60" x2="433.00" y2="430.00" stroke="#000" stroke-width="0.9" />
<text x="0" y="0" font-size="8.5" text-anchor="end" transform="translate(434.3,432.3) rotate(-45)">sgRNA6</text>
<rect x="444.12" y="346.10" width="3.40" height="15.50" fill="#FF7E79" stroke="#7a3a38" stroke-width="0.45" />
<rect x="450.12" y="339.40" width="3.40" height="6.70" fill="#6E7CF5" stroke="#2a2a7a" stroke-width="0.45" />
<line x1="449.12" y1="426.60" x2="449.12" y2="430.00" stroke="#000" stroke-width="0.9" />
<text x="0" y="0" font-size="8.5" text-anchor="end" transform="translate(450.42,432.3) rotate(-45)">sgRNA7</text>
<rect x="460.24" y="346.10" width="3.40" height="22.20" fill="#FF7E79" stroke="#7a3a38" stroke-width="0.45" />
<rect x="466.24" y="346.10" width="3.40" height="3.35" fill="#6E7CF5" stroke="#2a2a7a" stroke-width="0.45" />
<line x1="465.24" y1="426.60" x2="465.24" y2="430.00" stroke="#000" stroke-width="0.9" />
<text x="0" y="0" font-size="8.5" text-anchor="end" transform="translate(466.54,432.3) rotate(-45)">sgRNA8</text>
<rect x="476.36" y="346.10" width="3.40" height="46.00" fill="#FF7E79" stroke="#7a3a38" stroke-width="0.45" />
<rect x="482.36" y="344.09" width="3.40" height="2.01" fill="#6E7CF5" stroke="#2a2a7a" stroke-width="0.45" />
<line x1="481.36" y1="426.60" x2="481.36" y2="430.00" stroke="#000" stroke-width="0.9" />
<text x="0" y="0" font-size="8.5" text-anchor="end" transform="translate(482.66,432.3) rotate(-45)">sgRNA9</text>
<rect x="492.48" y="346.10" width="3.40" height="14.10" fill="#FF7E79" stroke="#7a3a38" stroke-width="0.45" />
<rect x="498.48" y="346.10" width="3.40" height="3.35" fill="#6E7CF5" stroke="#2a2a7a" stroke-width="0.45" />
<line x1="497.48" y1="426.60" x2="497.48" y2="430.00" stroke="#000" stroke-width="0.9" />
<text x="0" y="0" font-size="8.5" text-anchor="end" transform="translate(498.78000000000003,432.3) rotate(-45)">sgRNA10</text>
<line x1="345.80" y1="346.10" x2="503.50" y2="346.10" stroke="#000" stroke-width="1.2" />
<text x="542.70" y="330.20" font-size="9.3" text-anchor="start" fill="#000" font-weight="normal" >SLC25A38 - targeted screen</text>
<line x1="526.10" y1="332.50" x2="526.10" y2="427.00" stroke="#000" stroke-width="1.1" />
<line x1="523.60" y1="332.70" x2="526.10" y2="332.70" stroke="#000" stroke-width="0.9" />
<line x1="523.60" y1="346.10" x2="526.10" y2="346.10" stroke="#000" stroke-width="0.9" />
<line x1="523.60" y1="359.50" x2="526.10" y2="359.50" stroke="#000" stroke-width="0.9" />
<line x1="523.60" y1="372.90" x2="526.10" y2="372.90" stroke="#000" stroke-width="0.9" />
<line x1="523.60" y1="386.30" x2="526.10" y2="386.30" stroke="#000" stroke-width="0.9" />
<line x1="523.60" y1="399.70" x2="526.10" y2="399.70" stroke="#000" stroke-width="0.9" />
<line x1="523.60" y1="413.10" x2="526.10" y2="413.10" stroke="#000" stroke-width="0.9" />
<line x1="523.60" y1="426.50" x2="526.10" y2="426.50" stroke="#000" stroke-width="0.9" />
<text x="521.80" y="348.80" font-size="8.2" text-anchor="end" fill="#000" font-weight="normal" >0</text>
<text x="521.80" y="389.00" font-size="8.2" text-anchor="end" fill="#000" font-weight="normal" >-6</text>
<text x="521.80" y="429.20" font-size="8.2" text-anchor="end" fill="#000" font-weight="normal" >-12</text>
<text x="0" y="0" font-size="8" text-anchor="middle" transform="translate(511.3,387) rotate(-90)">Guide score</text>
<line x1="525.60" y1="426.60" x2="684.00" y2="426.60" stroke="#000" stroke-width="1.1" />
<rect x="528.80" y="346.10" width="3.40" height="27.70" fill="#FF7E79" stroke="#7a3a38" stroke-width="0.45" />
<rect x="534.80" y="343.42" width="3.40" height="2.68" fill="#6E7CF5" stroke="#2a2a7a" stroke-width="0.45" />
<line x1="533.80" y1="426.60" x2="533.80" y2="430.00" stroke="#000" stroke-width="0.9" />
<text x="0" y="0" font-size="8.5" text-anchor="end" transform="translate(535.0999999999999,432.3) rotate(-45)">sgRNA1</text>
<rect x="544.87" y="346.10" width="3.40" height="27.10" fill="#FF7E79" stroke="#7a3a38" stroke-width="0.45" />
<rect x="550.87" y="346.10" width="3.40" height="1.00" fill="#6E7CF5" stroke="#2a2a7a" stroke-width="0.45" />
<line x1="549.87" y1="426.60" x2="549.87" y2="430.00" stroke="#000" stroke-width="0.9" />
<text x="0" y="0" font-size="8.5" text-anchor="end" transform="translate(551.17,432.3) rotate(-45)">sgRNA2</text>
<rect x="560.94" y="346.10" width="3.40" height="14.40" fill="#FF7E79" stroke="#7a3a38" stroke-width="0.45" />
<line x1="565.94" y1="426.60" x2="565.94" y2="430.00" stroke="#000" stroke-width="0.9" />
<text x="0" y="0" font-size="8.5" text-anchor="end" transform="translate(567.2399999999999,432.3) rotate(-45)">sgRNA3</text>
<rect x="577.01" y="346.10" width="3.40" height="14.40" fill="#FF7E79" stroke="#7a3a38" stroke-width="0.45" />
<rect x="583.01" y="343.42" width="3.40" height="2.68" fill="#6E7CF5" stroke="#2a2a7a" stroke-width="0.45" />
<line x1="582.01" y1="426.60" x2="582.01" y2="430.00" stroke="#000" stroke-width="0.9" />
<text x="0" y="0" font-size="8.5" text-anchor="end" transform="translate(583.31,432.3) rotate(-45)">sgRNA4</text>
<rect x="593.08" y="346.10" width="3.40" height="27.10" fill="#FF7E79" stroke="#7a3a38" stroke-width="0.45" />
<rect x="599.08" y="345.56" width="3.40" height="0.54" fill="#6E7CF5" stroke="#2a2a7a" stroke-width="0.45" />
<line x1="598.08" y1="426.60" x2="598.08" y2="430.00" stroke="#000" stroke-width="0.9" />
<text x="0" y="0" font-size="8.5" text-anchor="end" transform="translate(599.3799999999999,432.3) rotate(-45)">sgRNA5</text>
<rect x="609.15" y="346.10" width="3.40" height="11.60" fill="#FF7E79" stroke="#7a3a38" stroke-width="0.45" />
<rect x="615.15" y="344.09" width="3.40" height="2.01" fill="#6E7CF5" stroke="#2a2a7a" stroke-width="0.45" />
<line x1="614.15" y1="426.60" x2="614.15" y2="430.00" stroke="#000" stroke-width="0.9" />
<text x="0" y="0" font-size="8.5" text-anchor="end" transform="translate(615.4499999999999,432.3) rotate(-45)">sgRNA6</text>
<rect x="625.22" y="346.10" width="3.40" height="67.90" fill="#FF7E79" stroke="#7a3a38" stroke-width="0.45" />
<rect x="631.22" y="345.56" width="3.40" height="0.54" fill="#6E7CF5" stroke="#2a2a7a" stroke-width="0.45" />
<line x1="630.22" y1="426.60" x2="630.22" y2="430.00" stroke="#000" stroke-width="0.9" />
<text x="0" y="0" font-size="8.5" text-anchor="end" transform="translate(631.5199999999999,432.3) rotate(-45)">sgRNA7</text>
<rect x="641.29" y="346.10" width="3.40" height="11.10" fill="#FF7E79" stroke="#7a3a38" stroke-width="0.45" />
<line x1="646.29" y1="426.60" x2="646.29" y2="430.00" stroke="#000" stroke-width="0.9" />
<text x="0" y="0" font-size="8.5" text-anchor="end" transform="translate(647.5899999999999,432.3) rotate(-45)">sgRNA8</text>
<rect x="657.36" y="346.10" width="3.40" height="71.00" fill="#FF7E79" stroke="#7a3a38" stroke-width="0.45" />
<rect x="663.36" y="346.10" width="3.40" height="2.01" fill="#6E7CF5" stroke="#2a2a7a" stroke-width="0.45" />
<line x1="662.36" y1="426.60" x2="662.36" y2="430.00" stroke="#000" stroke-width="0.9" />
<text x="0" y="0" font-size="8.5" text-anchor="end" transform="translate(663.6599999999999,432.3) rotate(-45)">sgRNA9</text>
<rect x="673.43" y="346.10" width="3.40" height="8.30" fill="#FF7E79" stroke="#7a3a38" stroke-width="0.45" />
<rect x="679.43" y="346.10" width="3.40" height="6.03" fill="#6E7CF5" stroke="#2a2a7a" stroke-width="0.45" />
<line x1="678.43" y1="426.60" x2="678.43" y2="430.00" stroke="#000" stroke-width="0.9" />
<text x="0" y="0" font-size="8.5" text-anchor="end" transform="translate(679.7299999999999,432.3) rotate(-45)">sgRNA10</text>
<line x1="526.10" y1="346.10" x2="684.00" y2="346.10" stroke="#000" stroke-width="1.2" />
<rect x="545.20" y="400.30" width="6.00" height="6.00" fill="#6E7CF5" stroke="#222" stroke-width="0.6" />
<text x="551.80" y="406.60" font-size="9" text-anchor="start" fill="#000" font-weight="normal" >+B6</text>
<rect x="545.20" y="411.40" width="6.00" height="6.00" fill="#FF7E79" stroke="#222" stroke-width="0.6" />
<text x="551.80" y="417.70" font-size="9" text-anchor="start" fill="#000" font-weight="normal" >-B6</text>
<text x="403.00" y="492.70" font-size="18" text-anchor="start" fill="#000" font-weight="bold" >E</text>
<line x1="434.40" y1="488.20" x2="434.40" y2="662.10" stroke="#000" stroke-width="1.1" />
<line x1="432.20" y1="661.45" x2="434.40" y2="661.45" stroke="#000" stroke-width="0.9" />
<line x1="431.40" y1="642.20" x2="434.40" y2="642.20" stroke="#000" stroke-width="0.9" />
<line x1="432.20" y1="622.95" x2="434.40" y2="622.95" stroke="#000" stroke-width="0.9" />
<line x1="431.40" y1="603.70" x2="434.40" y2="603.70" stroke="#000" stroke-width="0.9" />
<line x1="432.20" y1="584.45" x2="434.40" y2="584.45" stroke="#000" stroke-width="0.9" />
<line x1="431.40" y1="565.20" x2="434.40" y2="565.20" stroke="#000" stroke-width="0.9" />
<line x1="432.20" y1="545.95" x2="434.40" y2="545.95" stroke="#000" stroke-width="0.9" />
<line x1="431.40" y1="526.70" x2="434.40" y2="526.70" stroke="#000" stroke-width="0.9" />
<line x1="432.20" y1="507.45" x2="434.40" y2="507.45" stroke="#000" stroke-width="0.9" />
<line x1="431.40" y1="488.20" x2="434.40" y2="488.20" stroke="#000" stroke-width="0.9" />
<text x="430.30" y="645.40" font-size="8.8" text-anchor="end" fill="#000" font-weight="normal" >0</text>
<text x="430.30" y="606.90" font-size="8.8" text-anchor="end" fill="#000" font-weight="normal" >1</text>
<text x="430.30" y="568.40" font-size="8.8" text-anchor="end" fill="#000" font-weight="normal" >2</text>
<text x="430.30" y="529.90" font-size="8.8" text-anchor="end" fill="#000" font-weight="normal" >3</text>
<text x="430.30" y="491.40" font-size="8.8" text-anchor="end" fill="#000" font-weight="normal" >4</text>
<text x="0" y="0" font-size="9.2" text-anchor="middle" transform="translate(419.8,571.5) rotate(-90)">Doublings in 3 days</text>
<circle cx="450.4" cy="478.6" r="2.9" fill="#7A81FF" stroke="#333" stroke-width="0.5"/>
<circle cx="450.4" cy="488.6" r="2.9" fill="#FFD479" stroke="#333" stroke-width="0.5"/>
<text x="461.00" y="482.20" font-size="9.6" text-anchor="start" fill="#000" font-weight="normal" >B6-high (1000nM PN)</text>
<text x="461.00" y="492.20" font-size="9.6" text-anchor="start" fill="#000" font-weight="normal" >B6-depleted</text>
<line x1="434.40" y1="661.60" x2="669.80" y2="661.60" stroke="#000" stroke-width="1.1" />
<rect x="438.50" y="527.86" width="8.40" height="114.35" fill="#7A81FF" stroke="#333" stroke-width="0.6" />
<line x1="442.70" y1="525.93" x2="442.70" y2="529.78" stroke="#333" stroke-width="0.6" />
<line x1="441.20" y1="525.93" x2="444.20" y2="525.93" stroke="#333" stroke-width="0.6" />
<line x1="441.20" y1="529.78" x2="444.20" y2="529.78" stroke="#333" stroke-width="0.6" />
<path d="M441.4,527.5550000000001 l1.3,-2 l1.3,2z" fill="none" stroke="#333" stroke-width="0.45"/>
<circle cx="442.7" cy="529.155" r="1" fill="none" stroke="#333" stroke-width="0.45"/>
<rect x="451.20" y="540.56" width="8.40" height="101.64" fill="#FFD479" stroke="#333" stroke-width="0.6" />
<line x1="455.40" y1="539.79" x2="455.40" y2="541.33" stroke="#333" stroke-width="0.6" />
<line x1="453.90" y1="539.79" x2="456.90" y2="539.79" stroke="#333" stroke-width="0.6" />
<line x1="453.90" y1="541.33" x2="456.90" y2="541.33" stroke="#333" stroke-width="0.6" />
<path d="M454.09999999999997,540.2600000000001 l1.3,-2 l1.3,2z" fill="none" stroke="#333" stroke-width="0.45"/>
<circle cx="455.4" cy="541.86" r="1" fill="none" stroke="#333" stroke-width="0.45"/>
<line x1="449.00" y1="661.60" x2="449.00" y2="665.20" stroke="#000" stroke-width="0.9" />
<text x="0" y="0" font-size="9.45" text-anchor="end" transform="translate(453.9,671.8) rotate(-45)">WT</text>
<path d="M442.7,523.4 V511.3 H455.4 V537.3" fill="none" stroke="#222" stroke-width="0.75"/>
<text x="449.00" y="512.20" font-size="8.2" text-anchor="middle" fill="#000" font-weight="bold" >**</text>
<text x="449.00" y="504.80" font-size="4.6" text-anchor="middle" fill="#000" font-weight="normal" >p = 0.0014</text>
<rect x="472.70" y="555.96" width="8.40" height="86.24" fill="#7A81FF" stroke="#333" stroke-width="0.6" />
<line x1="476.90" y1="554.04" x2="476.90" y2="557.88" stroke="#333" stroke-width="0.6" />
<line x1="475.40" y1="554.04" x2="478.40" y2="554.04" stroke="#333" stroke-width="0.6" />
<line x1="475.40" y1="557.88" x2="478.40" y2="557.88" stroke="#333" stroke-width="0.6" />
<path d="M475.59999999999997,555.6600000000001 l1.3,-2 l1.3,2z" fill="none" stroke="#333" stroke-width="0.45"/>
<circle cx="476.9" cy="557.26" r="1" fill="none" stroke="#333" stroke-width="0.45"/>
<rect x="485.40" y="642.20" width="8.40" height="8.47" fill="#FFD479" stroke="#333" stroke-width="0.6" />
<line x1="489.60" y1="656.45" x2="489.60" y2="644.90" stroke="#333" stroke-width="0.6" />
<line x1="488.10" y1="656.45" x2="491.10" y2="656.45" stroke="#333" stroke-width="0.6" />
<line x1="488.10" y1="644.90" x2="491.10" y2="644.90" stroke="#333" stroke-width="0.6" />
<path d="M488.29999999999995,650.3700000000001 l1.3,-2 l1.3,2z" fill="none" stroke="#333" stroke-width="0.45"/>
<circle cx="489.59999999999997" cy="651.97" r="1" fill="none" stroke="#333" stroke-width="0.45"/>
<line x1="483.20" y1="661.60" x2="483.20" y2="665.20" stroke="#000" stroke-width="0.9" />
<text x="0" y="0" font-size="9.45" text-anchor="end" transform="translate(488.09999999999997,671.8) rotate(-45)">SLC25A38 KO1</text>
<path d="M476.9,551.5 V511.3 H489.59999999999997 V634.5" fill="none" stroke="#222" stroke-width="0.75"/>
<text x="483.20" y="512.20" font-size="8.2" text-anchor="middle" fill="#000" font-weight="bold" >****</text>
<rect x="506.90" y="525.16" width="8.40" height="117.04" fill="#7A81FF" stroke="#333" stroke-width="0.6" />
<line x1="511.10" y1="520.54" x2="511.10" y2="529.78" stroke="#333" stroke-width="0.6" />
<line x1="509.60" y1="520.54" x2="512.60" y2="520.54" stroke="#333" stroke-width="0.6" />
<line x1="509.60" y1="529.78" x2="512.60" y2="529.78" stroke="#333" stroke-width="0.6" />
<path d="M509.79999999999995,524.8600000000001 l1.3,-2 l1.3,2z" fill="none" stroke="#333" stroke-width="0.45"/>
<circle cx="511.09999999999997" cy="526.46" r="1" fill="none" stroke="#333" stroke-width="0.45"/>
<rect x="519.60" y="626.03" width="8.40" height="16.17" fill="#FFD479" stroke="#333" stroke-width="0.6" />
<line x1="523.80" y1="623.72" x2="523.80" y2="628.34" stroke="#333" stroke-width="0.6" />
<line x1="522.30" y1="623.72" x2="525.30" y2="623.72" stroke="#333" stroke-width="0.6" />
<line x1="522.30" y1="628.34" x2="525.30" y2="628.34" stroke="#333" stroke-width="0.6" />
<path d="M522.5000000000001,625.7300000000001 l1.3,-2 l1.3,2z" fill="none" stroke="#333" stroke-width="0.45"/>
<circle cx="523.8000000000001" cy="627.33" r="1" fill="none" stroke="#333" stroke-width="0.45"/>
<line x1="517.40" y1="661.60" x2="517.40" y2="665.20" stroke="#000" stroke-width="0.9" />
<text x="0" y="0" font-size="9.45" text-anchor="end" transform="translate(522.3,671.8) rotate(-45)">SLC25A38 KO2</text>
<path d="M511.09999999999997,518.0 V511.3 H523.8 V614.0" fill="none" stroke="#222" stroke-width="0.75"/>
<text x="517.40" y="512.20" font-size="8.2" text-anchor="middle" fill="#000" font-weight="bold" >****</text>
<rect x="541.10" y="529.39" width="8.40" height="112.81" fill="#7A81FF" stroke="#333" stroke-width="0.6" />
<line x1="545.30" y1="526.32" x2="545.30" y2="532.48" stroke="#333" stroke-width="0.6" />
<line x1="543.80" y1="526.32" x2="546.80" y2="526.32" stroke="#333" stroke-width="0.6" />
<line x1="543.80" y1="532.48" x2="546.80" y2="532.48" stroke="#333" stroke-width="0.6" />
<path d="M544.0000000000001,529.095 l1.3,-2 l1.3,2z" fill="none" stroke="#333" stroke-width="0.45"/>
<circle cx="545.3000000000001" cy="530.6949999999999" r="1" fill="none" stroke="#333" stroke-width="0.45"/>
<rect x="553.80" y="537.87" width="8.40" height="104.34" fill="#FFD479" stroke="#333" stroke-width="0.6" />
<line x1="558.00" y1="535.94" x2="558.00" y2="539.79" stroke="#333" stroke-width="0.6" />
<line x1="556.50" y1="535.94" x2="559.50" y2="535.94" stroke="#333" stroke-width="0.6" />
<line x1="556.50" y1="539.79" x2="559.50" y2="539.79" stroke="#333" stroke-width="0.6" />
<path d="M556.7000000000002,537.565 l1.3,-2 l1.3,2z" fill="none" stroke="#333" stroke-width="0.45"/>
<circle cx="558.0000000000001" cy="539.165" r="1" fill="none" stroke="#333" stroke-width="0.45"/>
<line x1="551.60" y1="661.60" x2="551.60" y2="665.20" stroke="#000" stroke-width="0.9" />
<text x="0" y="0" font-size="9.45" text-anchor="end" transform="translate(556.5,671.8) rotate(-45)">SLC25A39 KO1</text>
<path d="M545.3000000000001,523.8 V511.3 H558.0 V533.4" fill="none" stroke="#222" stroke-width="0.75"/>
<text x="551.60" y="512.20" font-size="8.2" text-anchor="middle" fill="#000" font-weight="bold" >*</text>
<text x="551.60" y="504.80" font-size="4.6" text-anchor="middle" fill="#000" font-weight="normal" >p = 0.0004</text>
<rect x="575.30" y="537.87" width="8.40" height="104.34" fill="#7A81FF" stroke="#333" stroke-width="0.6" />
<line x1="579.50" y1="535.17" x2="579.50" y2="540.56" stroke="#333" stroke-width="0.6" />
<line x1="578.00" y1="535.17" x2="581.00" y2="535.17" stroke="#333" stroke-width="0.6" />
<line x1="578.00" y1="540.56" x2="581.00" y2="540.56" stroke="#333" stroke-width="0.6" />
<path d="M578.2,537.565 l1.3,-2 l1.3,2z" fill="none" stroke="#333" stroke-width="0.45"/>
<circle cx="579.5" cy="539.165" r="1" fill="none" stroke="#333" stroke-width="0.45"/>
<rect x="588.00" y="543.26" width="8.40" height="98.94" fill="#FFD479" stroke="#333" stroke-width="0.6" />
<line x1="592.20" y1="541.72" x2="592.20" y2="544.80" stroke="#333" stroke-width="0.6" />
<line x1="590.70" y1="541.72" x2="593.70" y2="541.72" stroke="#333" stroke-width="0.6" />
<line x1="590.70" y1="544.80" x2="593.70" y2="544.80" stroke="#333" stroke-width="0.6" />
<path d="M590.9000000000001,542.9550000000002 l1.3,-2 l1.3,2z" fill="none" stroke="#333" stroke-width="0.45"/>
<circle cx="592.2" cy="544.5550000000001" r="1" fill="none" stroke="#333" stroke-width="0.45"/>
<line x1="585.80" y1="661.60" x2="585.80" y2="665.20" stroke="#000" stroke-width="0.9" />
<text x="0" y="0" font-size="9.45" text-anchor="end" transform="translate(590.6999999999999,671.8) rotate(-45)">SLC25A39 KO2</text>
<path d="M579.5,532.7 V511.3 H592.1999999999999 V539.2" fill="none" stroke="#222" stroke-width="0.75"/>
<text x="585.80" y="509.30" font-size="5.6" text-anchor="middle" fill="#000" font-weight="normal" >ns</text>
<rect x="609.50" y="524.39" width="8.40" height="117.81" fill="#7A81FF" stroke="#333" stroke-width="0.6" />
<line x1="613.70" y1="518.23" x2="613.70" y2="530.55" stroke="#333" stroke-width="0.6" />
<line x1="612.20" y1="518.23" x2="615.20" y2="518.23" stroke="#333" stroke-width="0.6" />
<line x1="612.20" y1="530.55" x2="615.20" y2="530.55" stroke="#333" stroke-width="0.6" />
<path d="M612.4000000000001,524.0900000000001 l1.3,-2 l1.3,2z" fill="none" stroke="#333" stroke-width="0.45"/>
<circle cx="613.7" cy="525.69" r="1" fill="none" stroke="#333" stroke-width="0.45"/>
<rect x="622.20" y="561.74" width="8.40" height="80.47" fill="#FFD479" stroke="#333" stroke-width="0.6" />
<line x1="626.40" y1="557.88" x2="626.40" y2="565.59" stroke="#333" stroke-width="0.6" />
<line x1="624.90" y1="557.88" x2="627.90" y2="557.88" stroke="#333" stroke-width="0.6" />
<line x1="624.90" y1="565.59" x2="627.90" y2="565.59" stroke="#333" stroke-width="0.6" />
<path d="M625.1000000000001,561.4350000000001 l1.3,-2 l1.3,2z" fill="none" stroke="#333" stroke-width="0.45"/>
<circle cx="626.4000000000001" cy="563.035" r="1" fill="none" stroke="#333" stroke-width="0.45"/>
<line x1="620.00" y1="661.60" x2="620.00" y2="665.20" stroke="#000" stroke-width="0.9" />
<text x="0" y="0" font-size="9.45" text-anchor="end" transform="translate(624.9,671.8) rotate(-45)">PROSC KO</text>
<path d="M613.7,515.7 V511.3 H626.4 V555.4" fill="none" stroke="#222" stroke-width="0.75"/>
<text x="620.00" y="512.20" font-size="8.2" text-anchor="middle" fill="#000" font-weight="bold" >****</text>
<rect x="643.70" y="521.31" width="8.40" height="120.89" fill="#7A81FF" stroke="#333" stroke-width="0.6" />
<line x1="647.90" y1="519.00" x2="647.90" y2="523.62" stroke="#333" stroke-width="0.6" />
<line x1="646.40" y1="519.00" x2="649.40" y2="519.00" stroke="#333" stroke-width="0.6" />
<line x1="646.40" y1="523.62" x2="649.40" y2="523.62" stroke="#333" stroke-width="0.6" />
<path d="M646.6000000000001,521.0100000000001 l1.3,-2 l1.3,2z" fill="none" stroke="#333" stroke-width="0.45"/>
<circle cx="647.9000000000001" cy="522.61" r="1" fill="none" stroke="#333" stroke-width="0.45"/>
<rect x="656.40" y="550.19" width="8.40" height="92.01" fill="#FFD479" stroke="#333" stroke-width="0.6" />
<line x1="660.60" y1="546.34" x2="660.60" y2="554.04" stroke="#333" stroke-width="0.6" />
<line x1="659.10" y1="546.34" x2="662.10" y2="546.34" stroke="#333" stroke-width="0.6" />
<line x1="659.10" y1="554.04" x2="662.10" y2="554.04" stroke="#333" stroke-width="0.6" />
<path d="M659.3000000000002,549.8850000000001 l1.3,-2 l1.3,2z" fill="none" stroke="#333" stroke-width="0.45"/>
<circle cx="660.6000000000001" cy="551.485" r="1" fill="none" stroke="#333" stroke-width="0.45"/>
<line x1="654.20" y1="661.60" x2="654.20" y2="665.20" stroke="#000" stroke-width="0.9" />
<text x="0" y="0" font-size="9.45" text-anchor="end" transform="translate(659.1,671.8) rotate(-45)">PDXK KO</text>
<path d="M647.9000000000001,516.5 V511.3 H660.6 V543.8" fill="none" stroke="#222" stroke-width="0.75"/>
<text x="654.20" y="512.20" font-size="8.2" text-anchor="middle" fill="#000" font-weight="bold" >****</text>
<line x1="434.40" y1="642.20" x2="669.80" y2="642.20" stroke="#000" stroke-width="1.4" />
<text x="2.00" y="753.20" font-size="18" text-anchor="start" fill="#000" font-weight="bold" >F</text>
<line x1="40.10" y1="746.80" x2="40.10" y2="936.60" stroke="#000" stroke-width="1.1" />
<line x1="37.10" y1="747.59" x2="40.10" y2="747.59" stroke="#000" stroke-width="0.9" />
<line x1="37.10" y1="772.20" x2="40.10" y2="772.20" stroke="#000" stroke-width="0.9" />
<line x1="37.10" y1="826.90" x2="40.10" y2="826.90" stroke="#000" stroke-width="0.9" />
<line x1="37.10" y1="881.60" x2="40.10" y2="881.60" stroke="#000" stroke-width="0.9" />
<line x1="37.10" y1="936.30" x2="40.10" y2="936.30" stroke="#000" stroke-width="0.9" />
<text x="36.30" y="775.40" font-size="9" text-anchor="end" fill="#000" font-weight="normal" >4</text>
<text x="36.30" y="830.10" font-size="9" text-anchor="end" fill="#000" font-weight="normal" >2</text>
<text x="36.30" y="884.80" font-size="9" text-anchor="end" fill="#000" font-weight="normal" >0</text>
<text x="36.60" y="939.50" font-size="9" text-anchor="end" fill="#000" font-weight="normal" >-2</text>
<text x="0" y="0" font-size="9.1" text-anchor="middle" transform="translate(21.6,846) rotate(-90)">Doublings in 4 days</text>
<text x="107.70" y="744.20" font-size="10.6" text-anchor="middle" fill="#000" font-weight="normal" >WT</text>
<path d="M40.7,753 V750.2 H174.7 V753" fill="none" stroke="#000" stroke-width="0.9"/>
<path d="M42,885.6 L82.6,883.2 Q83.8,885.9 82.6,888.6 Z" fill="#fff" stroke="#333" stroke-width="0.6"/>
<path d="M42,885.9 L60,885.0 L60,886.9 Z" fill="#333"/>
<path d="M42.4,890.2 V893.2 H82.2 V890.2" fill="none" stroke="#333" stroke-width="0.75"/>
<text x="62.30" y="902.00" font-size="8.6" text-anchor="middle" fill="#2EC452" font-weight="normal" >PN 1nM</text>
<rect x="42.30" y="783.20" width="2.80" height="98.40" fill="#8DB3DE" stroke="#3F72AE" stroke-width="0.8" />
<line x1="43.70" y1="780.99" x2="43.70" y2="785.41" stroke="#7a7a7a" stroke-width="0.55" />
<line x1="42.50" y1="780.99" x2="44.90" y2="780.99" stroke="#7a7a7a" stroke-width="0.55" />
<line x1="42.10" y1="783.20" x2="45.30" y2="783.20" stroke="#333" stroke-width="0.9" />
<circle cx="43.7" cy="781.7" r="0.95" fill="none" stroke="#808080" stroke-width="0.5"/>
<circle cx="43.7" cy="786.0" r="0.95" fill="none" stroke="#808080" stroke-width="0.5"/>
<rect x="47.57" y="781.00" width="2.80" height="100.60" fill="#8DB3DE" stroke="#3F72AE" stroke-width="0.8" />
<line x1="48.97" y1="777.69" x2="48.97" y2="784.31" stroke="#7a7a7a" stroke-width="0.55" />
<line x1="47.77" y1="777.69" x2="50.17" y2="777.69" stroke="#7a7a7a" stroke-width="0.55" />
<line x1="47.37" y1="781.00" x2="50.57" y2="781.00" stroke="#333" stroke-width="0.9" />
<circle cx="48.97" cy="778.7" r="0.95" fill="none" stroke="#808080" stroke-width="0.5"/>
<circle cx="48.97" cy="783.2" r="0.95" fill="none" stroke="#808080" stroke-width="0.5"/>
<rect x="52.84" y="776.20" width="2.80" height="105.40" fill="#8DB3DE" stroke="#3F72AE" stroke-width="0.8" />
<line x1="54.24" y1="774.66" x2="54.24" y2="777.74" stroke="#7a7a7a" stroke-width="0.55" />
<line x1="53.04" y1="774.66" x2="55.44" y2="774.66" stroke="#7a7a7a" stroke-width="0.55" />
<line x1="52.64" y1="776.20" x2="55.84" y2="776.20" stroke="#333" stroke-width="0.9" />
<circle cx="54.24" cy="775.0" r="0.95" fill="none" stroke="#808080" stroke-width="0.5"/>
<circle cx="54.24" cy="778.6" r="0.95" fill="none" stroke="#808080" stroke-width="0.5"/>
<rect x="58.11" y="781.20" width="2.80" height="100.40" fill="#8DB3DE" stroke="#3F72AE" stroke-width="0.8" />
<line x1="59.51" y1="779.00" x2="59.51" y2="783.40" stroke="#7a7a7a" stroke-width="0.55" />
<line x1="58.31" y1="779.00" x2="60.71" y2="779.00" stroke="#7a7a7a" stroke-width="0.55" />
<line x1="57.91" y1="781.20" x2="61.11" y2="781.20" stroke="#333" stroke-width="0.9" />
<circle cx="59.510000000000005" cy="779.4" r="0.95" fill="none" stroke="#808080" stroke-width="0.5"/>
<circle cx="59.510000000000005" cy="784.2" r="0.95" fill="none" stroke="#808080" stroke-width="0.5"/>
<rect x="63.38" y="778.00" width="2.80" height="103.60" fill="#8DB3DE" stroke="#3F72AE" stroke-width="0.8" />
<line x1="64.78" y1="773.99" x2="64.78" y2="782.01" stroke="#7a7a7a" stroke-width="0.55" />
<line x1="63.58" y1="773.99" x2="65.98" y2="773.99" stroke="#7a7a7a" stroke-width="0.55" />
<line x1="63.18" y1="778.00" x2="66.38" y2="778.00" stroke="#333" stroke-width="0.9" />
<circle cx="64.78" cy="775.4" r="0.95" fill="none" stroke="#808080" stroke-width="0.5"/>
<circle cx="64.78" cy="782.6" r="0.95" fill="none" stroke="#808080" stroke-width="0.5"/>
<rect x="68.65" y="776.20" width="2.80" height="105.40" fill="#8DB3DE" stroke="#3F72AE" stroke-width="0.8" />
<line x1="70.05" y1="774.25" x2="70.05" y2="778.15" stroke="#7a7a7a" stroke-width="0.55" />
<line x1="68.85" y1="774.25" x2="71.25" y2="774.25" stroke="#7a7a7a" stroke-width="0.55" />
<line x1="68.45" y1="776.20" x2="71.65" y2="776.20" stroke="#333" stroke-width="0.9" />
<circle cx="70.05" cy="774.9" r="0.95" fill="none" stroke="#808080" stroke-width="0.5"/>
<circle cx="70.05" cy="779.9" r="0.95" fill="none" stroke="#808080" stroke-width="0.5"/>
<rect x="73.92" y="778.00" width="2.80" height="103.60" fill="#8DB3DE" stroke="#3F72AE" stroke-width="0.8" />
<line x1="75.32" y1="774.93" x2="75.32" y2="781.07" stroke="#7a7a7a" stroke-width="0.55" />
<line x1="74.12" y1="774.93" x2="76.52" y2="774.93" stroke="#7a7a7a" stroke-width="0.55" />
<line x1="73.72" y1="778.00" x2="76.92" y2="778.00" stroke="#333" stroke-width="0.9" />
<circle cx="75.32000000000001" cy="775.8" r="0.95" fill="none" stroke="#808080" stroke-width="0.5"/>
<circle cx="75.32000000000001" cy="782.1" r="0.95" fill="none" stroke="#808080" stroke-width="0.5"/>
<rect x="79.19" y="785.40" width="2.80" height="96.20" fill="#8DB3DE" stroke="#3F72AE" stroke-width="0.8" />
<line x1="80.59" y1="783.71" x2="80.59" y2="787.09" stroke="#7a7a7a" stroke-width="0.55" />
<line x1="79.39" y1="783.71" x2="81.79" y2="783.71" stroke="#7a7a7a" stroke-width="0.55" />
<line x1="78.99" y1="785.40" x2="82.19" y2="785.40" stroke="#333" stroke-width="0.9" />
<circle cx="80.59" cy="784.2" r="0.95" fill="none" stroke="#808080" stroke-width="0.5"/>
<circle cx="80.59" cy="788.4" r="0.95" fill="none" stroke="#808080" stroke-width="0.5"/>
<path d="M88,885.6 L128.6,883.2 Q129.79999999999998,885.9 128.6,888.6 Z" fill="#fff" stroke="#333" stroke-width="0.6"/>
<path d="M88,885.9 L106,885.0 L106,886.9 Z" fill="#333"/>
<path d="M88.4,890.2 V893.2 H128.2 V890.2" fill="none" stroke="#333" stroke-width="0.75"/>
<text x="108.30" y="902.00" font-size="8.6" text-anchor="middle" fill="#2A9A48" font-weight="normal" >PN 10nM</text>
<rect x="88.30" y="790.20" width="2.80" height="91.40" fill="#8796F6" stroke="#6A7CF0" stroke-width="0.8" />
<line x1="89.70" y1="788.10" x2="89.70" y2="792.30" stroke="#7a7a7a" stroke-width="0.55" />
<line x1="88.50" y1="788.10" x2="90.90" y2="788.10" stroke="#7a7a7a" stroke-width="0.55" />
<line x1="88.10" y1="790.20" x2="91.30" y2="790.20" stroke="#333" stroke-width="0.9" />
<circle cx="89.7" cy="789.1" r="0.95" fill="none" stroke="#808080" stroke-width="0.5"/>
<circle cx="89.7" cy="794.0" r="0.95" fill="none" stroke="#808080" stroke-width="0.5"/>
<rect x="93.57" y="795.00" width="2.80" height="86.60" fill="#8796F6" stroke="#6A7CF0" stroke-width="0.8" />
<line x1="94.97" y1="792.55" x2="94.97" y2="797.45" stroke="#7a7a7a" stroke-width="0.55" />
<line x1="93.77" y1="792.55" x2="96.17" y2="792.55" stroke="#7a7a7a" stroke-width="0.55" />
<line x1="93.37" y1="795.00" x2="96.57" y2="795.00" stroke="#333" stroke-width="0.9" />
<circle cx="94.97" cy="793.2" r="0.95" fill="none" stroke="#808080" stroke-width="0.5"/>
<circle cx="94.97" cy="799.1" r="0.95" fill="none" stroke="#808080" stroke-width="0.5"/>
<rect x="98.84" y="790.40" width="2.80" height="91.20" fill="#8796F6" stroke="#6A7CF0" stroke-width="0.8" />
<line x1="100.24" y1="787.47" x2="100.24" y2="793.33" stroke="#7a7a7a" stroke-width="0.55" />
<line x1="99.04" y1="787.47" x2="101.44" y2="787.47" stroke="#7a7a7a" stroke-width="0.55" />
<line x1="98.64" y1="790.40" x2="101.84" y2="790.40" stroke="#333" stroke-width="0.9" />
<circle cx="100.24" cy="788.1" r="0.95" fill="none" stroke="#808080" stroke-width="0.5"/>
<circle cx="100.24" cy="793.6" r="0.95" fill="none" stroke="#808080" stroke-width="0.5"/>
<rect x="104.11" y="793.60" width="2.80" height="88.00" fill="#8796F6" stroke="#6A7CF0" stroke-width="0.8" />
<line x1="105.51" y1="790.50" x2="105.51" y2="796.70" stroke="#7a7a7a" stroke-width="0.55" />
<line x1="104.31" y1="790.50" x2="106.71" y2="790.50" stroke="#7a7a7a" stroke-width="0.55" />
<line x1="103.91" y1="793.60" x2="107.11" y2="793.60" stroke="#333" stroke-width="0.9" />
<circle cx="105.51" cy="791.6" r="0.95" fill="none" stroke="#808080" stroke-width="0.5"/>
<circle cx="105.51" cy="798.5" r="0.95" fill="none" stroke="#808080" stroke-width="0.5"/>
<rect x="109.38" y="794.90" width="2.80" height="86.70" fill="#8796F6" stroke="#6A7CF0" stroke-width="0.8" />
<line x1="110.78" y1="791.64" x2="110.78" y2="798.16" stroke="#7a7a7a" stroke-width="0.55" />
<line x1="109.58" y1="791.64" x2="111.98" y2="791.64" stroke="#7a7a7a" stroke-width="0.55" />
<line x1="109.18" y1="794.90" x2="112.38" y2="794.90" stroke="#333" stroke-width="0.9" />
<circle cx="110.78" cy="793.2" r="0.95" fill="none" stroke="#808080" stroke-width="0.5"/>
<circle cx="110.78" cy="797.3" r="0.95" fill="none" stroke="#808080" stroke-width="0.5"/>
<rect x="114.65" y="798.80" width="2.80" height="82.80" fill="#8796F6" stroke="#6A7CF0" stroke-width="0.8" />
<line x1="116.05" y1="796.87" x2="116.05" y2="800.73" stroke="#7a7a7a" stroke-width="0.55" />
<line x1="114.85" y1="796.87" x2="117.25" y2="796.87" stroke="#7a7a7a" stroke-width="0.55" />
<line x1="114.45" y1="798.80" x2="117.65" y2="798.80" stroke="#333" stroke-width="0.9" />
<circle cx="116.05" cy="797.3" r="0.95" fill="none" stroke="#808080" stroke-width="0.5"/>
<circle cx="116.05" cy="801.6" r="0.95" fill="none" stroke="#808080" stroke-width="0.5"/>
<rect x="119.92" y="798.80" width="2.80" height="82.80" fill="#8796F6" stroke="#6A7CF0" stroke-width="0.8" />
<line x1="121.32" y1="796.05" x2="121.32" y2="801.55" stroke="#7a7a7a" stroke-width="0.55" />
<line x1="120.12" y1="796.05" x2="122.52" y2="796.05" stroke="#7a7a7a" stroke-width="0.55" />
<line x1="119.72" y1="798.80" x2="122.92" y2="798.80" stroke="#333" stroke-width="0.9" />
<circle cx="121.32000000000001" cy="797.2" r="0.95" fill="none" stroke="#808080" stroke-width="0.5"/>
<circle cx="121.32000000000001" cy="802.2" r="0.95" fill="none" stroke="#808080" stroke-width="0.5"/>
<rect x="125.19" y="801.50" width="2.80" height="80.10" fill="#8796F6" stroke="#6A7CF0" stroke-width="0.8" />
<line x1="126.59" y1="799.23" x2="126.59" y2="803.77" stroke="#7a7a7a" stroke-width="0.55" />
<line x1="125.39" y1="799.23" x2="127.79" y2="799.23" stroke="#7a7a7a" stroke-width="0.55" />
<line x1="124.99" y1="801.50" x2="128.19" y2="801.50" stroke="#333" stroke-width="0.9" />
<circle cx="126.59" cy="800.1" r="0.95" fill="none" stroke="#808080" stroke-width="0.5"/>
<circle cx="126.59" cy="804.8" r="0.95" fill="none" stroke="#808080" stroke-width="0.5"/>
<path d="M134,885.6 L174.6,883.2 Q175.79999999999998,885.9 174.6,888.6 Z" fill="#fff" stroke="#333" stroke-width="0.6"/>
<path d="M134,885.9 L152,885.0 L152,886.9 Z" fill="#333"/>
<path d="M134.4,890.2 V893.2 H174.2 V890.2" fill="none" stroke="#333" stroke-width="0.75"/>
<text x="154.30" y="902.00" font-size="8.6" text-anchor="middle" fill="#1F6E35" font-weight="normal" >PN 1μM</text>
<rect x="134.30" y="793.00" width="2.80" height="88.60" fill="#5A5AE8" stroke="#3333D6" stroke-width="0.8" />
<line x1="135.70" y1="789.46" x2="135.70" y2="796.54" stroke="#7a7a7a" stroke-width="0.55" />
<line x1="134.50" y1="789.46" x2="136.90" y2="789.46" stroke="#7a7a7a" stroke-width="0.55" />
<line x1="134.10" y1="793.00" x2="137.30" y2="793.00" stroke="#333" stroke-width="0.9" />
<circle cx="135.7" cy="790.3" r="0.95" fill="none" stroke="#808080" stroke-width="0.5"/>
<circle cx="135.7" cy="797.4" r="0.95" fill="none" stroke="#808080" stroke-width="0.5"/>
<rect x="139.57" y="798.80" width="2.80" height="82.80" fill="#5A5AE8" stroke="#3333D6" stroke-width="0.8" />
<line x1="140.97" y1="794.05" x2="140.97" y2="803.55" stroke="#7a7a7a" stroke-width="0.55" />
<line x1="139.77" y1="794.05" x2="142.17" y2="794.05" stroke="#7a7a7a" stroke-width="0.55" />
<line x1="139.37" y1="798.80" x2="142.57" y2="798.80" stroke="#333" stroke-width="0.9" />
<circle cx="140.97" cy="795.2" r="0.95" fill="none" stroke="#808080" stroke-width="0.5"/>
<circle cx="140.97" cy="805.5" r="0.95" fill="none" stroke="#808080" stroke-width="0.5"/>
<rect x="144.84" y="800.10" width="2.80" height="81.50" fill="#5A5AE8" stroke="#3333D6" stroke-width="0.8" />
<line x1="146.24" y1="796.25" x2="146.24" y2="803.95" stroke="#7a7a7a" stroke-width="0.55" />
<line x1="145.04" y1="796.25" x2="147.44" y2="796.25" stroke="#7a7a7a" stroke-width="0.55" />
<line x1="144.64" y1="800.10" x2="147.84" y2="800.10" stroke="#333" stroke-width="0.9" />
<circle cx="146.23999999999998" cy="798.0" r="0.95" fill="none" stroke="#808080" stroke-width="0.5"/>
<circle cx="146.23999999999998" cy="805.4" r="0.95" fill="none" stroke="#808080" stroke-width="0.5"/>
<rect x="150.11" y="798.30" width="2.80" height="83.30" fill="#5A5AE8" stroke="#3333D6" stroke-width="0.8" />
<line x1="151.51" y1="793.42" x2="151.51" y2="803.18" stroke="#7a7a7a" stroke-width="0.55" />
<line x1="150.31" y1="793.42" x2="152.71" y2="793.42" stroke="#7a7a7a" stroke-width="0.55" />
<line x1="149.91" y1="798.30" x2="153.11" y2="798.30" stroke="#333" stroke-width="0.9" />
<circle cx="151.51" cy="794.5" r="0.95" fill="none" stroke="#808080" stroke-width="0.5"/>
<circle cx="151.51" cy="803.1" r="0.95" fill="none" stroke="#808080" stroke-width="0.5"/>
<rect x="155.38" y="800.10" width="2.80" height="81.50" fill="#5A5AE8" stroke="#3333D6" stroke-width="0.8" />
<line x1="156.78" y1="796.10" x2="156.78" y2="804.10" stroke="#7a7a7a" stroke-width="0.55" />
<line x1="155.58" y1="796.10" x2="157.98" y2="796.10" stroke="#7a7a7a" stroke-width="0.55" />
<line x1="155.18" y1="800.10" x2="158.38" y2="800.10" stroke="#333" stroke-width="0.9" />
<circle cx="156.77999999999997" cy="797.8" r="0.95" fill="none" stroke="#808080" stroke-width="0.5"/>
<circle cx="156.77999999999997" cy="805.4" r="0.95" fill="none" stroke="#808080" stroke-width="0.5"/>
<rect x="160.65" y="802.00" width="2.80" height="79.60" fill="#5A5AE8" stroke="#3333D6" stroke-width="0.8" />
<line x1="162.05" y1="798.49" x2="162.05" y2="805.51" stroke="#7a7a7a" stroke-width="0.55" />
<line x1="160.85" y1="798.49" x2="163.25" y2="798.49" stroke="#7a7a7a" stroke-width="0.55" />
<line x1="160.45" y1="802.00" x2="163.65" y2="802.00" stroke="#333" stroke-width="0.9" />
<circle cx="162.04999999999998" cy="799.9" r="0.95" fill="none" stroke="#808080" stroke-width="0.5"/>
<circle cx="162.04999999999998" cy="804.2" r="0.95" fill="none" stroke="#808080" stroke-width="0.5"/>
<rect x="165.92" y="803.00" width="2.80" height="78.60" fill="#5A5AE8" stroke="#3333D6" stroke-width="0.8" />
<line x1="167.32" y1="798.51" x2="167.32" y2="807.49" stroke="#7a7a7a" stroke-width="0.55" />
<line x1="166.12" y1="798.51" x2="168.52" y2="798.51" stroke="#7a7a7a" stroke-width="0.55" />
<line x1="165.72" y1="803.00" x2="168.92" y2="803.00" stroke="#333" stroke-width="0.9" />
<circle cx="167.32" cy="799.4" r="0.95" fill="none" stroke="#808080" stroke-width="0.5"/>
<circle cx="167.32" cy="805.4" r="0.95" fill="none" stroke="#808080" stroke-width="0.5"/>
<rect x="171.19" y="801.50" width="2.80" height="80.10" fill="#5A5AE8" stroke="#3333D6" stroke-width="0.8" />
<line x1="172.59" y1="797.20" x2="172.59" y2="805.80" stroke="#7a7a7a" stroke-width="0.55" />
<line x1="171.39" y1="797.20" x2="173.79" y2="797.20" stroke="#7a7a7a" stroke-width="0.55" />
<line x1="170.99" y1="801.50" x2="174.19" y2="801.50" stroke="#333" stroke-width="0.9" />
<circle cx="172.58999999999997" cy="798.8" r="0.95" fill="none" stroke="#808080" stroke-width="0.5"/>
<circle cx="172.58999999999997" cy="804.1" r="0.95" fill="none" stroke="#808080" stroke-width="0.5"/>
<text x="244.25" y="744.20" font-size="10.6" text-anchor="middle" fill="#000" font-weight="normal" >SLC25A39 KO</text>
<path d="M177.9,753 V750.2 H310.6 V753" fill="none" stroke="#000" stroke-width="0.9"/>
<path d="M179.2,885.6 L219.79999999999998,883.2 Q220.99999999999997,885.9 219.79999999999998,888.6 Z" fill="#fff" stroke="#333" stroke-width="0.6"/>
<path d="M179.2,885.9 L197.2,885.0 L197.2,886.9 Z" fill="#333"/>
<path d="M179.6,890.2 V893.2 H219.39999999999998 V890.2" fill="none" stroke="#333" stroke-width="0.75"/>
<text x="199.50" y="902.00" font-size="8.6" text-anchor="middle" fill="#2EC452" font-weight="normal" >PN 1nM</text>
<rect x="179.50" y="785.70" width="2.80" height="95.90" fill="#D8D8D8" stroke="#ABABAB" stroke-width="0.8" />
<line x1="180.90" y1="775.64" x2="180.90" y2="795.76" stroke="#7a7a7a" stroke-width="0.55" />
<line x1="179.70" y1="775.64" x2="182.10" y2="775.64" stroke="#7a7a7a" stroke-width="0.55" />
<line x1="179.30" y1="785.70" x2="182.50" y2="785.70" stroke="#333" stroke-width="0.9" />
<circle cx="180.89999999999998" cy="778.4" r="0.95" fill="none" stroke="#808080" stroke-width="0.5"/>
<circle cx="180.89999999999998" cy="796.5" r="0.95" fill="none" stroke="#808080" stroke-width="0.5"/>
<rect x="184.77" y="781.70" width="2.80" height="99.90" fill="#D8D8D8" stroke="#ABABAB" stroke-width="0.8" />
<line x1="186.17" y1="773.39" x2="186.17" y2="790.01" stroke="#7a7a7a" stroke-width="0.55" />
<line x1="184.97" y1="773.39" x2="187.37" y2="773.39" stroke="#7a7a7a" stroke-width="0.55" />
<line x1="184.57" y1="781.70" x2="187.77" y2="781.70" stroke="#333" stroke-width="0.9" />
<circle cx="186.17" cy="776.0" r="0.95" fill="none" stroke="#808080" stroke-width="0.5"/>
<circle cx="186.17" cy="784.1" r="0.95" fill="none" stroke="#808080" stroke-width="0.5"/>
<rect x="190.04" y="773.90" width="2.80" height="107.70" fill="#D8D8D8" stroke="#ABABAB" stroke-width="0.8" />
<line x1="191.44" y1="760.87" x2="191.44" y2="786.93" stroke="#7a7a7a" stroke-width="0.55" />
<line x1="190.24" y1="760.87" x2="192.64" y2="760.87" stroke="#7a7a7a" stroke-width="0.55" />
<line x1="189.84" y1="773.90" x2="193.04" y2="773.90" stroke="#333" stroke-width="0.9" />
<circle cx="191.43999999999997" cy="766.1" r="0.95" fill="none" stroke="#808080" stroke-width="0.5"/>
<circle cx="191.43999999999997" cy="787.4" r="0.95" fill="none" stroke="#808080" stroke-width="0.5"/>
<rect x="195.31" y="776.50" width="2.80" height="105.10" fill="#D8D8D8" stroke="#ABABAB" stroke-width="0.8" />
<line x1="196.71" y1="761.64" x2="196.71" y2="791.36" stroke="#7a7a7a" stroke-width="0.55" />
<line x1="195.51" y1="761.64" x2="197.91" y2="761.64" stroke="#7a7a7a" stroke-width="0.55" />
<line x1="195.11" y1="776.50" x2="198.31" y2="776.50" stroke="#333" stroke-width="0.9" />
<circle cx="196.70999999999998" cy="766.8" r="0.95" fill="none" stroke="#808080" stroke-width="0.5"/>
<circle cx="196.70999999999998" cy="793.3" r="0.95" fill="none" stroke="#808080" stroke-width="0.5"/>
<rect x="200.58" y="781.70" width="2.80" height="99.90" fill="#D8D8D8" stroke="#ABABAB" stroke-width="0.8" />
<line x1="201.98" y1="771.53" x2="201.98" y2="791.87" stroke="#7a7a7a" stroke-width="0.55" />
<line x1="200.78" y1="771.53" x2="203.18" y2="771.53" stroke="#7a7a7a" stroke-width="0.55" />
<line x1="200.38" y1="781.70" x2="203.58" y2="781.70" stroke="#333" stroke-width="0.9" />
<circle cx="201.97999999999996" cy="776.4" r="0.95" fill="none" stroke="#808080" stroke-width="0.5"/>
<circle cx="201.97999999999996" cy="789.8" r="0.95" fill="none" stroke="#808080" stroke-width="0.5"/>
<rect x="205.85" y="790.40" width="2.80" height="91.20" fill="#D8D8D8" stroke="#ABABAB" stroke-width="0.8" />
<line x1="207.25" y1="782.18" x2="207.25" y2="798.62" stroke="#7a7a7a" stroke-width="0.55" />
<line x1="206.05" y1="782.18" x2="208.45" y2="782.18" stroke="#7a7a7a" stroke-width="0.55" />
<line x1="205.65" y1="790.40" x2="208.85" y2="790.40" stroke="#333" stroke-width="0.9" />
<circle cx="207.24999999999997" cy="785.8" r="0.95" fill="none" stroke="#808080" stroke-width="0.5"/>
<circle cx="207.24999999999997" cy="795.8" r="0.95" fill="none" stroke="#808080" stroke-width="0.5"/>
<rect x="211.12" y="794.90" width="2.80" height="86.70" fill="#D8D8D8" stroke="#ABABAB" stroke-width="0.8" />
<line x1="212.52" y1="782.63" x2="212.52" y2="807.17" stroke="#7a7a7a" stroke-width="0.55" />
<line x1="211.32" y1="782.63" x2="213.72" y2="782.63" stroke="#7a7a7a" stroke-width="0.55" />
<line x1="210.92" y1="794.90" x2="214.12" y2="794.90" stroke="#333" stroke-width="0.9" />
<circle cx="212.51999999999998" cy="788.2" r="0.95" fill="none" stroke="#808080" stroke-width="0.5"/>
<circle cx="212.51999999999998" cy="797.4" r="0.95" fill="none" stroke="#808080" stroke-width="0.5"/>
<rect x="216.39" y="797.00" width="2.80" height="84.60" fill="#D8D8D8" stroke="#ABABAB" stroke-width="0.8" />
<line x1="217.79" y1="782.93" x2="217.79" y2="811.07" stroke="#7a7a7a" stroke-width="0.55" />
<line x1="216.59" y1="782.93" x2="218.99" y2="782.93" stroke="#7a7a7a" stroke-width="0.55" />
<line x1="216.19" y1="797.00" x2="219.39" y2="797.00" stroke="#333" stroke-width="0.9" />
<circle cx="217.78999999999996" cy="788.6" r="0.95" fill="none" stroke="#808080" stroke-width="0.5"/>
<circle cx="217.78999999999996" cy="812.5" r="0.95" fill="none" stroke="#808080" stroke-width="0.5"/>
<path d="M225.2,885.6 L265.8,883.2 Q267.0,885.9 265.8,888.6 Z" fill="#fff" stroke="#333" stroke-width="0.6"/>
<path d="M225.2,885.9 L243.2,885.0 L243.2,886.9 Z" fill="#333"/>
<path d="M225.6,890.2 V893.2 H265.4 V890.2" fill="none" stroke="#333" stroke-width="0.75"/>
<text x="245.50" y="902.00" font-size="8.6" text-anchor="middle" fill="#2A9A48" font-weight="normal" >PN 10nM</text>
<rect x="225.50" y="792.30" width="2.80" height="89.30" fill="#ABABAB" stroke="#8E8E8E" stroke-width="0.8" />
<line x1="226.90" y1="786.66" x2="226.90" y2="797.94" stroke="#7a7a7a" stroke-width="0.55" />
<line x1="225.70" y1="786.66" x2="228.10" y2="786.66" stroke="#7a7a7a" stroke-width="0.55" />
<line x1="225.30" y1="792.30" x2="228.50" y2="792.30" stroke="#333" stroke-width="0.9" />
<circle cx="226.89999999999998" cy="788.8" r="0.95" fill="none" stroke="#808080" stroke-width="0.5"/>
<circle cx="226.89999999999998" cy="796.9" r="0.95" fill="none" stroke="#808080" stroke-width="0.5"/>
<rect x="230.77" y="795.70" width="2.80" height="85.90" fill="#ABABAB" stroke="#8E8E8E" stroke-width="0.8" />
<line x1="232.17" y1="791.38" x2="232.17" y2="800.02" stroke="#7a7a7a" stroke-width="0.55" />
<line x1="230.97" y1="791.38" x2="233.37" y2="791.38" stroke="#7a7a7a" stroke-width="0.55" />
<line x1="230.57" y1="795.70" x2="233.77" y2="795.70" stroke="#333" stroke-width="0.9" />
<circle cx="232.17" cy="792.7" r="0.95" fill="none" stroke="#808080" stroke-width="0.5"/>
<circle cx="232.17" cy="800.3" r="0.95" fill="none" stroke="#808080" stroke-width="0.5"/>
<rect x="236.04" y="795.40" width="2.80" height="86.20" fill="#ABABAB" stroke="#8E8E8E" stroke-width="0.8" />
<line x1="237.44" y1="790.94" x2="237.44" y2="799.86" stroke="#7a7a7a" stroke-width="0.55" />
<line x1="236.24" y1="790.94" x2="238.64" y2="790.94" stroke="#7a7a7a" stroke-width="0.55" />
<line x1="235.84" y1="795.40" x2="239.04" y2="795.40" stroke="#333" stroke-width="0.9" />
<circle cx="237.43999999999997" cy="792.3" r="0.95" fill="none" stroke="#808080" stroke-width="0.5"/>
<circle cx="237.43999999999997" cy="801.6" r="0.95" fill="none" stroke="#808080" stroke-width="0.5"/>
<rect x="241.31" y="795.40" width="2.80" height="86.20" fill="#ABABAB" stroke="#8E8E8E" stroke-width="0.8" />
<line x1="242.71" y1="791.13" x2="242.71" y2="799.67" stroke="#7a7a7a" stroke-width="0.55" />
<line x1="241.51" y1="791.13" x2="243.91" y2="791.13" stroke="#7a7a7a" stroke-width="0.55" />
<line x1="241.11" y1="795.40" x2="244.31" y2="795.40" stroke="#333" stroke-width="0.9" />
<circle cx="242.70999999999998" cy="792.7" r="0.95" fill="none" stroke="#808080" stroke-width="0.5"/>
<circle cx="242.70999999999998" cy="800.5" r="0.95" fill="none" stroke="#808080" stroke-width="0.5"/>
<rect x="246.58" y="791.50" width="2.80" height="90.10" fill="#ABABAB" stroke="#8E8E8E" stroke-width="0.8" />
<line x1="247.98" y1="788.17" x2="247.98" y2="794.83" stroke="#7a7a7a" stroke-width="0.55" />
<line x1="246.78" y1="788.17" x2="249.18" y2="788.17" stroke="#7a7a7a" stroke-width="0.55" />
<line x1="246.38" y1="791.50" x2="249.58" y2="791.50" stroke="#333" stroke-width="0.9" />
<circle cx="247.97999999999996" cy="789.5" r="0.95" fill="none" stroke="#808080" stroke-width="0.5"/>
<circle cx="247.97999999999996" cy="796.8" r="0.95" fill="none" stroke="#808080" stroke-width="0.5"/>
<rect x="251.85" y="804.10" width="2.80" height="77.50" fill="#ABABAB" stroke="#8E8E8E" stroke-width="0.8" />
<line x1="253.25" y1="799.78" x2="253.25" y2="808.42" stroke="#7a7a7a" stroke-width="0.55" />
<line x1="252.05" y1="799.78" x2="254.45" y2="799.78" stroke="#7a7a7a" stroke-width="0.55" />
<line x1="251.65" y1="804.10" x2="254.85" y2="804.10" stroke="#333" stroke-width="0.9" />
<circle cx="253.24999999999997" cy="801.2" r="0.95" fill="none" stroke="#808080" stroke-width="0.5"/>
<circle cx="253.24999999999997" cy="806.1" r="0.95" fill="none" stroke="#808080" stroke-width="0.5"/>
<rect x="257.12" y="804.10" width="2.80" height="77.50" fill="#ABABAB" stroke="#8E8E8E" stroke-width="0.8" />
<line x1="258.52" y1="800.15" x2="258.52" y2="808.05" stroke="#7a7a7a" stroke-width="0.55" />
<line x1="257.32" y1="800.15" x2="259.72" y2="800.15" stroke="#7a7a7a" stroke-width="0.55" />
<line x1="256.92" y1="804.10" x2="260.12" y2="804.10" stroke="#333" stroke-width="0.9" />
<circle cx="258.52" cy="801.4" r="0.95" fill="none" stroke="#808080" stroke-width="0.5"/>
<circle cx="258.52" cy="806.2" r="0.95" fill="none" stroke="#808080" stroke-width="0.5"/>
<rect x="262.39" y="809.30" width="2.80" height="72.30" fill="#ABABAB" stroke="#8E8E8E" stroke-width="0.8" />
<line x1="263.79" y1="804.64" x2="263.79" y2="813.96" stroke="#7a7a7a" stroke-width="0.55" />
<line x1="262.59" y1="804.64" x2="264.99" y2="804.64" stroke="#7a7a7a" stroke-width="0.55" />
<line x1="262.19" y1="809.30" x2="265.39" y2="809.30" stroke="#333" stroke-width="0.9" />
<circle cx="263.78999999999996" cy="806.1" r="0.95" fill="none" stroke="#808080" stroke-width="0.5"/>
<circle cx="263.78999999999996" cy="811.6" r="0.95" fill="none" stroke="#808080" stroke-width="0.5"/>
<path d="M271.2,885.6 L311.8,883.2 Q313.0,885.9 311.8,888.6 Z" fill="#fff" stroke="#333" stroke-width="0.6"/>
<path d="M271.2,885.9 L289.2,885.0 L289.2,886.9 Z" fill="#333"/>
<path d="M271.59999999999997,890.2 V893.2 H311.4 V890.2" fill="none" stroke="#333" stroke-width="0.75"/>
<text x="291.50" y="902.00" font-size="8.6" text-anchor="middle" fill="#1F6E35" font-weight="normal" >PN 1μM</text>
<rect x="271.50" y="811.40" width="2.80" height="70.20" fill="#777777" stroke="#5A5A5A" stroke-width="0.8" />
<line x1="272.90" y1="805.89" x2="272.90" y2="816.91" stroke="#7a7a7a" stroke-width="0.55" />
<line x1="271.70" y1="805.89" x2="274.10" y2="805.89" stroke="#7a7a7a" stroke-width="0.55" />
<line x1="271.30" y1="811.40" x2="274.50" y2="811.40" stroke="#333" stroke-width="0.9" />
<circle cx="272.9" cy="807.9" r="0.95" fill="none" stroke="#808080" stroke-width="0.5"/>
<circle cx="272.9" cy="817.1" r="0.95" fill="none" stroke="#808080" stroke-width="0.5"/>
<rect x="276.77" y="803.60" width="2.80" height="78.00" fill="#777777" stroke="#5A5A5A" stroke-width="0.8" />
<line x1="278.17" y1="799.19" x2="278.17" y2="808.01" stroke="#7a7a7a" stroke-width="0.55" />
<line x1="276.97" y1="799.19" x2="279.37" y2="799.19" stroke="#7a7a7a" stroke-width="0.55" />
<line x1="276.57" y1="803.60" x2="279.77" y2="803.60" stroke="#333" stroke-width="0.9" />
<circle cx="278.16999999999996" cy="800.5" r="0.95" fill="none" stroke="#808080" stroke-width="0.5"/>
<circle cx="278.16999999999996" cy="808.9" r="0.95" fill="none" stroke="#808080" stroke-width="0.5"/>
<rect x="282.04" y="808.00" width="2.80" height="73.60" fill="#777777" stroke="#5A5A5A" stroke-width="0.8" />
<line x1="283.44" y1="804.91" x2="283.44" y2="811.09" stroke="#7a7a7a" stroke-width="0.55" />
<line x1="282.24" y1="804.91" x2="284.64" y2="804.91" stroke="#7a7a7a" stroke-width="0.55" />
<line x1="281.84" y1="808.00" x2="285.04" y2="808.00" stroke="#333" stroke-width="0.9" />
<circle cx="283.44" cy="806.4" r="0.95" fill="none" stroke="#808080" stroke-width="0.5"/>
<circle cx="283.44" cy="812.1" r="0.95" fill="none" stroke="#808080" stroke-width="0.5"/>
<rect x="287.31" y="815.90" width="2.80" height="65.70" fill="#777777" stroke="#5A5A5A" stroke-width="0.8" />
<line x1="288.71" y1="809.05" x2="288.71" y2="822.75" stroke="#7a7a7a" stroke-width="0.55" />
<line x1="287.51" y1="809.05" x2="289.91" y2="809.05" stroke="#7a7a7a" stroke-width="0.55" />
<line x1="287.11" y1="815.90" x2="290.31" y2="815.90" stroke="#333" stroke-width="0.9" />
<circle cx="288.71" cy="812.0" r="0.95" fill="none" stroke="#808080" stroke-width="0.5"/>
<circle cx="288.71" cy="821.0" r="0.95" fill="none" stroke="#808080" stroke-width="0.5"/>
<rect x="292.58" y="814.10" width="2.80" height="67.50" fill="#777777" stroke="#5A5A5A" stroke-width="0.8" />
<line x1="293.98" y1="808.73" x2="293.98" y2="819.47" stroke="#7a7a7a" stroke-width="0.55" />
<line x1="292.78" y1="808.73" x2="295.18" y2="808.73" stroke="#7a7a7a" stroke-width="0.55" />
<line x1="292.38" y1="814.10" x2="295.58" y2="814.10" stroke="#333" stroke-width="0.9" />
<circle cx="293.97999999999996" cy="810.9" r="0.95" fill="none" stroke="#808080" stroke-width="0.5"/>
<circle cx="293.97999999999996" cy="818.1" r="0.95" fill="none" stroke="#808080" stroke-width="0.5"/>
<rect x="297.85" y="814.10" width="2.80" height="67.50" fill="#777777" stroke="#5A5A5A" stroke-width="0.8" />
<line x1="299.25" y1="809.85" x2="299.25" y2="818.35" stroke="#7a7a7a" stroke-width="0.55" />
<line x1="298.05" y1="809.85" x2="300.45" y2="809.85" stroke="#7a7a7a" stroke-width="0.55" />
<line x1="297.65" y1="814.10" x2="300.85" y2="814.10" stroke="#333" stroke-width="0.9" />
<circle cx="299.25" cy="811.5" r="0.95" fill="none" stroke="#808080" stroke-width="0.5"/>
<circle cx="299.25" cy="818.6" r="0.95" fill="none" stroke="#808080" stroke-width="0.5"/>
<rect x="303.12" y="812.00" width="2.80" height="69.60" fill="#777777" stroke="#5A5A5A" stroke-width="0.8" />
<line x1="304.52" y1="807.80" x2="304.52" y2="816.20" stroke="#7a7a7a" stroke-width="0.55" />
<line x1="303.32" y1="807.80" x2="305.72" y2="807.80" stroke="#7a7a7a" stroke-width="0.55" />
<line x1="302.92" y1="812.00" x2="306.12" y2="812.00" stroke="#333" stroke-width="0.9" />
<circle cx="304.52" cy="809.4" r="0.95" fill="none" stroke="#808080" stroke-width="0.5"/>
<circle cx="304.52" cy="817.2" r="0.95" fill="none" stroke="#808080" stroke-width="0.5"/>
<rect x="308.39" y="815.10" width="2.80" height="66.50" fill="#777777" stroke="#5A5A5A" stroke-width="0.8" />
<line x1="309.79" y1="811.99" x2="309.79" y2="818.21" stroke="#7a7a7a" stroke-width="0.55" />
<line x1="308.59" y1="811.99" x2="310.99" y2="811.99" stroke="#7a7a7a" stroke-width="0.55" />
<line x1="308.19" y1="815.10" x2="311.39" y2="815.10" stroke="#333" stroke-width="0.9" />
<circle cx="309.78999999999996" cy="813.0" r="0.95" fill="none" stroke="#808080" stroke-width="0.5"/>
<circle cx="309.78999999999996" cy="819.4" r="0.95" fill="none" stroke="#808080" stroke-width="0.5"/>
<text x="384.15" y="744.20" font-size="10.6" text-anchor="middle" fill="#000" font-weight="normal" >PROSC KO</text>
<path d="M318.2,753 V750.2 H450.1 V753" fill="none" stroke="#000" stroke-width="0.9"/>
<path d="M320,885.6 L357.6,883.2 Q358.8,885.9 357.6,888.6 Z" fill="#fff" stroke="#333" stroke-width="0.6"/>
<path d="M320,885.9 L338,885.0 L338,886.9 Z" fill="#333"/>
<path d="M317.4,902.1 V905.1 H357.2 V902.1" fill="none" stroke="#333" stroke-width="0.75"/>
<text x="337.30" y="913.60" font-size="8.6" text-anchor="middle" fill="#2EC452" font-weight="normal" >PN 1nM</text>
<rect x="317.30" y="881.60" width="2.80" height="15.00" fill="#D2AEEC" stroke="#B488DC" stroke-width="0.8" />
<line x1="318.70" y1="893.32" x2="318.70" y2="899.88" stroke="#7a7a7a" stroke-width="0.55" />
<line x1="317.50" y1="899.88" x2="319.90" y2="899.88" stroke="#7a7a7a" stroke-width="0.55" />
<line x1="317.10" y1="896.60" x2="320.30" y2="896.60" stroke="#333" stroke-width="0.9" />
<circle cx="318.7" cy="898.5" r="0.95" fill="none" stroke="#808080" stroke-width="0.5"/>
<circle cx="318.7" cy="892.0" r="0.95" fill="none" stroke="#808080" stroke-width="0.5"/>
<rect x="322.57" y="878.90" width="2.80" height="2.70" fill="#D2AEEC" stroke="#B488DC" stroke-width="0.8" />
<line x1="323.97" y1="875.80" x2="323.97" y2="882.00" stroke="#7a7a7a" stroke-width="0.55" />
<line x1="322.77" y1="875.80" x2="325.17" y2="875.80" stroke="#7a7a7a" stroke-width="0.55" />
<line x1="322.37" y1="878.90" x2="325.57" y2="878.90" stroke="#333" stroke-width="0.9" />
<circle cx="323.96999999999997" cy="877.2" r="0.95" fill="none" stroke="#808080" stroke-width="0.5"/>
<rect x="327.84" y="868.30" width="2.80" height="13.30" fill="#D2AEEC" stroke="#B488DC" stroke-width="0.8" />
<line x1="329.24" y1="864.71" x2="329.24" y2="871.89" stroke="#7a7a7a" stroke-width="0.55" />
<line x1="328.04" y1="864.71" x2="330.44" y2="864.71" stroke="#7a7a7a" stroke-width="0.55" />
<line x1="327.64" y1="868.30" x2="330.84" y2="868.30" stroke="#333" stroke-width="0.9" />
<circle cx="329.24" cy="865.8" r="0.95" fill="none" stroke="#808080" stroke-width="0.5"/>
<circle cx="329.24" cy="870.7" r="0.95" fill="none" stroke="#808080" stroke-width="0.5"/>
<rect x="333.11" y="837.10" width="2.80" height="44.50" fill="#D2AEEC" stroke="#B488DC" stroke-width="0.8" />
<line x1="334.51" y1="833.80" x2="334.51" y2="840.40" stroke="#7a7a7a" stroke-width="0.55" />
<line x1="333.31" y1="833.80" x2="335.71" y2="833.80" stroke="#7a7a7a" stroke-width="0.55" />
<line x1="332.91" y1="837.10" x2="336.11" y2="837.10" stroke="#333" stroke-width="0.9" />
<circle cx="334.51" cy="835.1" r="0.95" fill="none" stroke="#808080" stroke-width="0.5"/>
<circle cx="334.51" cy="841.9" r="0.95" fill="none" stroke="#808080" stroke-width="0.5"/>
<rect x="338.38" y="822.30" width="2.80" height="59.30" fill="#D2AEEC" stroke="#B488DC" stroke-width="0.8" />
<line x1="339.78" y1="818.70" x2="339.78" y2="825.90" stroke="#7a7a7a" stroke-width="0.55" />
<line x1="338.58" y1="818.70" x2="340.98" y2="818.70" stroke="#7a7a7a" stroke-width="0.55" />
<line x1="338.18" y1="822.30" x2="341.38" y2="822.30" stroke="#333" stroke-width="0.9" />
<circle cx="339.78" cy="819.6" r="0.95" fill="none" stroke="#808080" stroke-width="0.5"/>
<circle cx="339.78" cy="824.9" r="0.95" fill="none" stroke="#808080" stroke-width="0.5"/>
<rect x="343.65" y="809.40" width="2.80" height="72.20" fill="#D2AEEC" stroke="#B488DC" stroke-width="0.8" />
<line x1="345.05" y1="806.06" x2="345.05" y2="812.74" stroke="#7a7a7a" stroke-width="0.55" />
<line x1="343.85" y1="806.06" x2="346.25" y2="806.06" stroke="#7a7a7a" stroke-width="0.55" />
<line x1="343.45" y1="809.40" x2="346.65" y2="809.40" stroke="#333" stroke-width="0.9" />
<circle cx="345.05" cy="807.1" r="0.95" fill="none" stroke="#808080" stroke-width="0.5"/>
<circle cx="345.05" cy="814.4" r="0.95" fill="none" stroke="#808080" stroke-width="0.5"/>
<rect x="348.92" y="817.70" width="2.80" height="63.90" fill="#D2AEEC" stroke="#B488DC" stroke-width="0.8" />
<line x1="350.32" y1="814.07" x2="350.32" y2="821.33" stroke="#7a7a7a" stroke-width="0.55" />
<line x1="349.12" y1="814.07" x2="351.52" y2="814.07" stroke="#7a7a7a" stroke-width="0.55" />
<line x1="348.72" y1="817.70" x2="351.92" y2="817.70" stroke="#333" stroke-width="0.9" />
<circle cx="350.32" cy="815.6" r="0.95" fill="none" stroke="#808080" stroke-width="0.5"/>
<circle cx="350.32" cy="820.1" r="0.95" fill="none" stroke="#808080" stroke-width="0.5"/>
<rect x="354.19" y="811.00" width="2.80" height="70.60" fill="#D2AEEC" stroke="#B488DC" stroke-width="0.8" />
<line x1="355.59" y1="807.18" x2="355.59" y2="814.82" stroke="#7a7a7a" stroke-width="0.55" />
<line x1="354.39" y1="807.18" x2="356.79" y2="807.18" stroke="#7a7a7a" stroke-width="0.55" />
<line x1="353.99" y1="811.00" x2="357.19" y2="811.00" stroke="#333" stroke-width="0.9" />
<circle cx="355.59" cy="808.9" r="0.95" fill="none" stroke="#808080" stroke-width="0.5"/>
<circle cx="355.59" cy="816.1" r="0.95" fill="none" stroke="#808080" stroke-width="0.5"/>
<path d="M363.1,885.6 L403.70000000000005,883.2 Q404.90000000000003,885.9 403.70000000000005,888.6 Z" fill="#fff" stroke="#333" stroke-width="0.6"/>
<path d="M363.1,885.9 L381.1,885.0 L381.1,886.9 Z" fill="#333"/>
<path d="M363.5,890.2 V893.2 H403.3 V890.2" fill="none" stroke="#333" stroke-width="0.75"/>
<text x="383.40" y="902.00" font-size="8.6" text-anchor="middle" fill="#2A9A48" font-weight="normal" >PN 10nM</text>
<rect x="363.40" y="831.90" width="2.80" height="49.70" fill="#B675E2" stroke="#9A55D2" stroke-width="0.8" />
<line x1="364.80" y1="827.38" x2="364.80" y2="836.42" stroke="#7a7a7a" stroke-width="0.55" />
<line x1="363.60" y1="827.38" x2="366.00" y2="827.38" stroke="#7a7a7a" stroke-width="0.55" />
<line x1="363.20" y1="831.90" x2="366.40" y2="831.90" stroke="#333" stroke-width="0.9" />
<circle cx="364.8" cy="829.4" r="0.95" fill="none" stroke="#808080" stroke-width="0.5"/>
<circle cx="364.8" cy="835.2" r="0.95" fill="none" stroke="#808080" stroke-width="0.5"/>
<rect x="368.67" y="819.60" width="2.80" height="62.00" fill="#B675E2" stroke="#9A55D2" stroke-width="0.8" />
<line x1="370.07" y1="815.18" x2="370.07" y2="824.02" stroke="#7a7a7a" stroke-width="0.55" />
<line x1="368.87" y1="815.18" x2="371.27" y2="815.18" stroke="#7a7a7a" stroke-width="0.55" />
<line x1="368.47" y1="819.60" x2="371.67" y2="819.60" stroke="#333" stroke-width="0.9" />
<circle cx="370.07" cy="816.5" r="0.95" fill="none" stroke="#808080" stroke-width="0.5"/>
<circle cx="370.07" cy="825.2" r="0.95" fill="none" stroke="#808080" stroke-width="0.5"/>
<rect x="373.94" y="811.50" width="2.80" height="70.10" fill="#B675E2" stroke="#9A55D2" stroke-width="0.8" />
<line x1="375.34" y1="808.46" x2="375.34" y2="814.54" stroke="#7a7a7a" stroke-width="0.55" />
<line x1="374.14" y1="808.46" x2="376.54" y2="808.46" stroke="#7a7a7a" stroke-width="0.55" />
<line x1="373.74" y1="811.50" x2="376.94" y2="811.50" stroke="#333" stroke-width="0.9" />
<circle cx="375.34000000000003" cy="809.9" r="0.95" fill="none" stroke="#808080" stroke-width="0.5"/>
<circle cx="375.34000000000003" cy="814.4" r="0.95" fill="none" stroke="#808080" stroke-width="0.5"/>
<rect x="379.21" y="813.50" width="2.80" height="68.10" fill="#B675E2" stroke="#9A55D2" stroke-width="0.8" />
<line x1="380.61" y1="809.12" x2="380.61" y2="817.88" stroke="#7a7a7a" stroke-width="0.55" />
<line x1="379.41" y1="809.12" x2="381.81" y2="809.12" stroke="#7a7a7a" stroke-width="0.55" />
<line x1="379.01" y1="813.50" x2="382.21" y2="813.50" stroke="#333" stroke-width="0.9" />
<circle cx="380.61" cy="811.0" r="0.95" fill="none" stroke="#808080" stroke-width="0.5"/>
<circle cx="380.61" cy="817.0" r="0.95" fill="none" stroke="#808080" stroke-width="0.5"/>
<rect x="384.48" y="806.30" width="2.80" height="75.30" fill="#B675E2" stroke="#9A55D2" stroke-width="0.8" />
<line x1="385.88" y1="803.05" x2="385.88" y2="809.55" stroke="#7a7a7a" stroke-width="0.55" />
<line x1="384.68" y1="803.05" x2="387.08" y2="803.05" stroke="#7a7a7a" stroke-width="0.55" />
<line x1="384.28" y1="806.30" x2="387.48" y2="806.30" stroke="#333" stroke-width="0.9" />
<circle cx="385.88" cy="804.3" r="0.95" fill="none" stroke="#808080" stroke-width="0.5"/>
<circle cx="385.88" cy="809.6" r="0.95" fill="none" stroke="#808080" stroke-width="0.5"/>
<rect x="389.75" y="805.30" width="2.80" height="76.30" fill="#B675E2" stroke="#9A55D2" stroke-width="0.8" />
<line x1="391.15" y1="800.54" x2="391.15" y2="810.06" stroke="#7a7a7a" stroke-width="0.55" />
<line x1="389.95" y1="800.54" x2="392.35" y2="800.54" stroke="#7a7a7a" stroke-width="0.55" />
<line x1="389.55" y1="805.30" x2="392.75" y2="805.30" stroke="#333" stroke-width="0.9" />
<circle cx="391.15000000000003" cy="802.7" r="0.95" fill="none" stroke="#808080" stroke-width="0.5"/>
<circle cx="391.15000000000003" cy="807.3" r="0.95" fill="none" stroke="#808080" stroke-width="0.5"/>
<rect x="395.02" y="810.80" width="2.80" height="70.80" fill="#B675E2" stroke="#9A55D2" stroke-width="0.8" />
<line x1="396.42" y1="805.97" x2="396.42" y2="815.63" stroke="#7a7a7a" stroke-width="0.55" />
<line x1="395.22" y1="805.97" x2="397.62" y2="805.97" stroke="#7a7a7a" stroke-width="0.55" />
<line x1="394.82" y1="810.80" x2="398.02" y2="810.80" stroke="#333" stroke-width="0.9" />
<circle cx="396.42" cy="807.1" r="0.95" fill="none" stroke="#808080" stroke-width="0.5"/>
<circle cx="396.42" cy="817.6" r="0.95" fill="none" stroke="#808080" stroke-width="0.5"/>
<rect x="400.29" y="806.80" width="2.80" height="74.80" fill="#B675E2" stroke="#9A55D2" stroke-width="0.8" />
<line x1="401.69" y1="803.50" x2="401.69" y2="810.10" stroke="#7a7a7a" stroke-width="0.55" />
<line x1="400.49" y1="803.50" x2="402.89" y2="803.50" stroke="#7a7a7a" stroke-width="0.55" />
<line x1="400.09" y1="806.80" x2="403.29" y2="806.80" stroke="#333" stroke-width="0.9" />
<circle cx="401.69" cy="804.2" r="0.95" fill="none" stroke="#808080" stroke-width="0.5"/>
<circle cx="401.69" cy="811.9" r="0.95" fill="none" stroke="#808080" stroke-width="0.5"/>
<path d="M409,885.6 L449.6,883.2 Q450.8,885.9 449.6,888.6 Z" fill="#fff" stroke="#333" stroke-width="0.6"/>
<path d="M409,885.9 L427,885.0 L427,886.9 Z" fill="#333"/>
<path d="M409.4,890.2 V893.2 H449.2 V890.2" fill="none" stroke="#333" stroke-width="0.75"/>
<text x="429.30" y="902.00" font-size="8.6" text-anchor="middle" fill="#1F6E35" font-weight="normal" >PN 1μM</text>
<rect x="409.30" y="809.80" width="2.80" height="71.80" fill="#A23AF6" stroke="#8A1FEA" stroke-width="0.8" />
<line x1="410.70" y1="806.74" x2="410.70" y2="812.86" stroke="#7a7a7a" stroke-width="0.55" />
<line x1="409.50" y1="806.74" x2="411.90" y2="806.74" stroke="#7a7a7a" stroke-width="0.55" />
<line x1="409.10" y1="809.80" x2="412.30" y2="809.80" stroke="#333" stroke-width="0.9" />
<circle cx="410.7" cy="807.6" r="0.95" fill="none" stroke="#808080" stroke-width="0.5"/>
<circle cx="410.7" cy="814.4" r="0.95" fill="none" stroke="#808080" stroke-width="0.5"/>
<rect x="414.57" y="804.70" width="2.80" height="76.90" fill="#A23AF6" stroke="#8A1FEA" stroke-width="0.8" />
<line x1="415.97" y1="800.54" x2="415.97" y2="808.86" stroke="#7a7a7a" stroke-width="0.55" />
<line x1="414.77" y1="800.54" x2="417.17" y2="800.54" stroke="#7a7a7a" stroke-width="0.55" />
<line x1="414.37" y1="804.70" x2="417.57" y2="804.70" stroke="#333" stroke-width="0.9" />
<circle cx="415.96999999999997" cy="802.0" r="0.95" fill="none" stroke="#808080" stroke-width="0.5"/>
<circle cx="415.96999999999997" cy="807.9" r="0.95" fill="none" stroke="#808080" stroke-width="0.5"/>
<rect x="419.84" y="803.30" width="2.80" height="78.30" fill="#A23AF6" stroke="#8A1FEA" stroke-width="0.8" />
<line x1="421.24" y1="799.95" x2="421.24" y2="806.65" stroke="#7a7a7a" stroke-width="0.55" />
<line x1="420.04" y1="799.95" x2="422.44" y2="799.95" stroke="#7a7a7a" stroke-width="0.55" />
<line x1="419.64" y1="803.30" x2="422.84" y2="803.30" stroke="#333" stroke-width="0.9" />
<circle cx="421.24" cy="801.4" r="0.95" fill="none" stroke="#808080" stroke-width="0.5"/>
<circle cx="421.24" cy="805.5" r="0.95" fill="none" stroke="#808080" stroke-width="0.5"/>
<rect x="425.11" y="805.30" width="2.80" height="76.30" fill="#A23AF6" stroke="#8A1FEA" stroke-width="0.8" />
<line x1="426.51" y1="801.33" x2="426.51" y2="809.27" stroke="#7a7a7a" stroke-width="0.55" />
<line x1="425.31" y1="801.33" x2="427.71" y2="801.33" stroke="#7a7a7a" stroke-width="0.55" />
<line x1="424.91" y1="805.30" x2="428.11" y2="805.30" stroke="#333" stroke-width="0.9" />
<circle cx="426.51" cy="803.0" r="0.95" fill="none" stroke="#808080" stroke-width="0.5"/>
<circle cx="426.51" cy="810.5" r="0.95" fill="none" stroke="#808080" stroke-width="0.5"/>
<rect x="430.38" y="803.30" width="2.80" height="78.30" fill="#A23AF6" stroke="#8A1FEA" stroke-width="0.8" />
<line x1="431.78" y1="800.69" x2="431.78" y2="805.91" stroke="#7a7a7a" stroke-width="0.55" />
<line x1="430.58" y1="800.69" x2="432.98" y2="800.69" stroke="#7a7a7a" stroke-width="0.55" />
<line x1="430.18" y1="803.30" x2="433.38" y2="803.30" stroke="#333" stroke-width="0.9" />
<circle cx="431.78" cy="801.3" r="0.95" fill="none" stroke="#808080" stroke-width="0.5"/>
<circle cx="431.78" cy="807.1" r="0.95" fill="none" stroke="#808080" stroke-width="0.5"/>
<rect x="435.65" y="802.30" width="2.80" height="79.30" fill="#A23AF6" stroke="#8A1FEA" stroke-width="0.8" />
<line x1="437.05" y1="797.49" x2="437.05" y2="807.11" stroke="#7a7a7a" stroke-width="0.55" />
<line x1="435.85" y1="797.49" x2="438.25" y2="797.49" stroke="#7a7a7a" stroke-width="0.55" />
<line x1="435.45" y1="802.30" x2="438.65" y2="802.30" stroke="#333" stroke-width="0.9" />
<circle cx="437.05" cy="798.6" r="0.95" fill="none" stroke="#808080" stroke-width="0.5"/>
<circle cx="437.05" cy="808.6" r="0.95" fill="none" stroke="#808080" stroke-width="0.5"/>
<rect x="440.92" y="806.30" width="2.80" height="75.30" fill="#A23AF6" stroke="#8A1FEA" stroke-width="0.8" />
<line x1="442.32" y1="802.36" x2="442.32" y2="810.24" stroke="#7a7a7a" stroke-width="0.55" />
<line x1="441.12" y1="802.36" x2="443.52" y2="802.36" stroke="#7a7a7a" stroke-width="0.55" />
<line x1="440.72" y1="806.30" x2="443.92" y2="806.30" stroke="#333" stroke-width="0.9" />
<circle cx="442.32" cy="804.3" r="0.95" fill="none" stroke="#808080" stroke-width="0.5"/>
<circle cx="442.32" cy="811.2" r="0.95" fill="none" stroke="#808080" stroke-width="0.5"/>
<rect x="446.19" y="806.30" width="2.80" height="75.30" fill="#A23AF6" stroke="#8A1FEA" stroke-width="0.8" />
<line x1="447.59" y1="803.37" x2="447.59" y2="809.23" stroke="#7a7a7a" stroke-width="0.55" />
<line x1="446.39" y1="803.37" x2="448.79" y2="803.37" stroke="#7a7a7a" stroke-width="0.55" />
<line x1="445.99" y1="806.30" x2="449.19" y2="806.30" stroke="#333" stroke-width="0.9" />
<circle cx="447.59" cy="804.6" r="0.95" fill="none" stroke="#808080" stroke-width="0.5"/>
<circle cx="447.59" cy="810.2" r="0.95" fill="none" stroke="#808080" stroke-width="0.5"/>
<text x="520.55" y="744.20" font-size="10.6" text-anchor="middle" fill="#000" font-weight="normal" >SLC25A38 KO</text>
<path d="M454.4,753 V750.2 H586.7 V753" fill="none" stroke="#000" stroke-width="0.9"/>
<path d="M454.4,885.6 L495.0,883.2 Q496.2,885.9 495.0,888.6 Z" fill="#fff" stroke="#333" stroke-width="0.6"/>
<path d="M454.4,885.9 L472.4,885.0 L472.4,886.9 Z" fill="#333"/>
<path d="M454.79999999999995,949.3 V952.3 H494.59999999999997 V949.3" fill="none" stroke="#333" stroke-width="0.75"/>
<text x="474.70" y="961.30" font-size="8.6" text-anchor="middle" fill="#2EC452" font-weight="normal" >PN 1nM</text>
<rect x="454.70" y="881.60" width="2.80" height="60.20" fill="#F6C4C6" stroke="#EBA2A6" stroke-width="0.8" />
<line x1="456.10" y1="936.18" x2="456.10" y2="947.42" stroke="#7a7a7a" stroke-width="0.55" />
<line x1="454.90" y1="947.42" x2="457.30" y2="947.42" stroke="#7a7a7a" stroke-width="0.55" />
<line x1="454.50" y1="941.80" x2="457.70" y2="941.80" stroke="#333" stroke-width="0.9" />
<circle cx="456.09999999999997" cy="945.3" r="0.95" fill="none" stroke="#808080" stroke-width="0.5"/>
<circle cx="456.09999999999997" cy="934.5" r="0.95" fill="none" stroke="#808080" stroke-width="0.5"/>
<rect x="459.97" y="881.60" width="2.80" height="51.40" fill="#F6C4C6" stroke="#EBA2A6" stroke-width="0.8" />
<line x1="461.37" y1="926.94" x2="461.37" y2="939.06" stroke="#7a7a7a" stroke-width="0.55" />
<line x1="460.17" y1="939.06" x2="462.57" y2="939.06" stroke="#7a7a7a" stroke-width="0.55" />
<line x1="459.77" y1="933.00" x2="462.97" y2="933.00" stroke="#333" stroke-width="0.9" />
<circle cx="461.36999999999995" cy="936.7" r="0.95" fill="none" stroke="#808080" stroke-width="0.5"/>
<circle cx="461.36999999999995" cy="929.5" r="0.95" fill="none" stroke="#808080" stroke-width="0.5"/>
<rect x="465.24" y="881.60" width="2.80" height="50.40" fill="#F6C4C6" stroke="#EBA2A6" stroke-width="0.8" />
<line x1="466.64" y1="924.69" x2="466.64" y2="939.31" stroke="#7a7a7a" stroke-width="0.55" />
<line x1="465.44" y1="939.31" x2="467.84" y2="939.31" stroke="#7a7a7a" stroke-width="0.55" />
<line x1="465.04" y1="932.00" x2="468.24" y2="932.00" stroke="#333" stroke-width="0.9" />
<circle cx="466.64" cy="936.7" r="0.95" fill="none" stroke="#808080" stroke-width="0.5"/>
<circle cx="466.64" cy="924.3" r="0.95" fill="none" stroke="#808080" stroke-width="0.5"/>
<rect x="470.51" y="881.60" width="2.80" height="28.20" fill="#F6C4C6" stroke="#EBA2A6" stroke-width="0.8" />
<line x1="471.91" y1="905.04" x2="471.91" y2="914.56" stroke="#7a7a7a" stroke-width="0.55" />
<line x1="470.71" y1="914.56" x2="473.11" y2="914.56" stroke="#7a7a7a" stroke-width="0.55" />
<line x1="470.31" y1="909.80" x2="473.51" y2="909.80" stroke="#333" stroke-width="0.9" />
<circle cx="471.90999999999997" cy="912.5" r="0.95" fill="none" stroke="#808080" stroke-width="0.5"/>
<circle cx="471.90999999999997" cy="905.3" r="0.95" fill="none" stroke="#808080" stroke-width="0.5"/>
<rect x="475.78" y="881.60" width="2.80" height="15.90" fill="#F6C4C6" stroke="#EBA2A6" stroke-width="0.8" />
<line x1="477.18" y1="890.42" x2="477.18" y2="904.58" stroke="#7a7a7a" stroke-width="0.55" />
<line x1="475.98" y1="904.58" x2="478.38" y2="904.58" stroke="#7a7a7a" stroke-width="0.55" />
<line x1="475.58" y1="897.50" x2="478.78" y2="897.50" stroke="#333" stroke-width="0.9" />
<circle cx="477.17999999999995" cy="901.4" r="0.95" fill="none" stroke="#808080" stroke-width="0.5"/>
<circle cx="477.17999999999995" cy="889.9" r="0.95" fill="none" stroke="#808080" stroke-width="0.5"/>
<rect x="481.05" y="880.00" width="2.80" height="1.60" fill="#F6C4C6" stroke="#EBA2A6" stroke-width="0.8" />
<line x1="482.45" y1="872.39" x2="482.45" y2="887.61" stroke="#7a7a7a" stroke-width="0.55" />
<line x1="481.25" y1="872.39" x2="483.65" y2="872.39" stroke="#7a7a7a" stroke-width="0.55" />
<line x1="480.85" y1="880.00" x2="484.05" y2="880.00" stroke="#333" stroke-width="0.9" />
<circle cx="482.45" cy="874.4" r="0.95" fill="none" stroke="#808080" stroke-width="0.5"/>
<rect x="486.32" y="881.60" width="2.80" height="4.20" fill="#F6C4C6" stroke="#EBA2A6" stroke-width="0.8" />
<line x1="487.72" y1="878.68" x2="487.72" y2="892.92" stroke="#7a7a7a" stroke-width="0.55" />
<line x1="486.52" y1="892.92" x2="488.92" y2="892.92" stroke="#7a7a7a" stroke-width="0.55" />
<line x1="486.12" y1="885.80" x2="489.32" y2="885.80" stroke="#333" stroke-width="0.9" />
<circle cx="487.71999999999997" cy="889.4" r="0.95" fill="none" stroke="#808080" stroke-width="0.5"/>
<rect x="491.59" y="881.60" width="2.80" height="14.70" fill="#F6C4C6" stroke="#EBA2A6" stroke-width="0.8" />
<line x1="492.99" y1="890.16" x2="492.99" y2="902.44" stroke="#7a7a7a" stroke-width="0.55" />
<line x1="491.79" y1="902.44" x2="494.19" y2="902.44" stroke="#7a7a7a" stroke-width="0.55" />
<line x1="491.39" y1="896.30" x2="494.59" y2="896.30" stroke="#333" stroke-width="0.9" />
<circle cx="492.98999999999995" cy="901.0" r="0.95" fill="none" stroke="#808080" stroke-width="0.5"/>
<circle cx="492.98999999999995" cy="894.0" r="0.95" fill="none" stroke="#808080" stroke-width="0.5"/>
<path d="M500.7,885.6 L541.3,883.2 Q542.5,885.9 541.3,888.6 Z" fill="#fff" stroke="#333" stroke-width="0.6"/>
<path d="M500.7,885.9 L518.7,885.0 L518.7,886.9 Z" fill="#333"/>
<path d="M501.09999999999997,930.7 V933.7 H540.9 V930.7" fill="none" stroke="#333" stroke-width="0.75"/>
<text x="521.00" y="942.60" font-size="8.6" text-anchor="middle" fill="#2A9A48" font-weight="normal" >PN 10nM</text>
<rect x="501.00" y="881.60" width="2.80" height="36.40" fill="#F4989E" stroke="#E87880" stroke-width="0.8" />
<line x1="502.40" y1="914.91" x2="502.40" y2="921.09" stroke="#7a7a7a" stroke-width="0.55" />
<line x1="501.20" y1="921.09" x2="503.60" y2="921.09" stroke="#7a7a7a" stroke-width="0.55" />
<line x1="500.80" y1="918.00" x2="504.00" y2="918.00" stroke="#333" stroke-width="0.9" />
<circle cx="502.4" cy="919.8" r="0.95" fill="none" stroke="#808080" stroke-width="0.5"/>
<circle cx="502.4" cy="914.4" r="0.95" fill="none" stroke="#808080" stroke-width="0.5"/>
<rect x="506.27" y="881.60" width="2.80" height="27.50" fill="#F4989E" stroke="#E87880" stroke-width="0.8" />
<line x1="507.67" y1="905.41" x2="507.67" y2="912.79" stroke="#7a7a7a" stroke-width="0.55" />
<line x1="506.47" y1="912.79" x2="508.87" y2="912.79" stroke="#7a7a7a" stroke-width="0.55" />
<line x1="506.07" y1="909.10" x2="509.27" y2="909.10" stroke="#333" stroke-width="0.9" />
<circle cx="507.66999999999996" cy="911.5" r="0.95" fill="none" stroke="#808080" stroke-width="0.5"/>
<circle cx="507.66999999999996" cy="904.2" r="0.95" fill="none" stroke="#808080" stroke-width="0.5"/>
<rect x="511.54" y="881.60" width="2.80" height="25.70" fill="#F4989E" stroke="#E87880" stroke-width="0.8" />
<line x1="512.94" y1="905.29" x2="512.94" y2="909.31" stroke="#7a7a7a" stroke-width="0.55" />
<line x1="511.74" y1="909.31" x2="514.14" y2="909.31" stroke="#7a7a7a" stroke-width="0.55" />
<line x1="511.34" y1="907.30" x2="514.54" y2="907.30" stroke="#333" stroke-width="0.9" />
<circle cx="512.94" cy="908.3" r="0.95" fill="none" stroke="#808080" stroke-width="0.5"/>
<circle cx="512.94" cy="905.0" r="0.95" fill="none" stroke="#808080" stroke-width="0.5"/>
<rect x="516.81" y="881.60" width="2.80" height="9.30" fill="#F4989E" stroke="#E87880" stroke-width="0.8" />
<line x1="518.21" y1="888.40" x2="518.21" y2="893.40" stroke="#7a7a7a" stroke-width="0.55" />
<line x1="517.01" y1="893.40" x2="519.41" y2="893.40" stroke="#7a7a7a" stroke-width="0.55" />
<line x1="516.61" y1="890.90" x2="519.81" y2="890.90" stroke="#333" stroke-width="0.9" />
<circle cx="518.21" cy="892.2" r="0.95" fill="none" stroke="#808080" stroke-width="0.5"/>
<circle cx="518.21" cy="886.5" r="0.95" fill="none" stroke="#808080" stroke-width="0.5"/>
<rect x="522.08" y="876.40" width="2.80" height="5.20" fill="#F4989E" stroke="#E87880" stroke-width="0.8" />
<line x1="523.48" y1="870.98" x2="523.48" y2="881.82" stroke="#7a7a7a" stroke-width="0.55" />
<line x1="522.28" y1="870.98" x2="524.68" y2="870.98" stroke="#7a7a7a" stroke-width="0.55" />
<line x1="521.88" y1="876.40" x2="525.08" y2="876.40" stroke="#333" stroke-width="0.9" />
<circle cx="523.48" cy="873.6" r="0.95" fill="none" stroke="#808080" stroke-width="0.5"/>
<rect x="527.35" y="846.00" width="2.80" height="35.60" fill="#F4989E" stroke="#E87880" stroke-width="0.8" />
<line x1="528.75" y1="841.99" x2="528.75" y2="850.01" stroke="#7a7a7a" stroke-width="0.55" />
<line x1="527.55" y1="841.99" x2="529.95" y2="841.99" stroke="#7a7a7a" stroke-width="0.55" />
<line x1="527.15" y1="846.00" x2="530.35" y2="846.00" stroke="#333" stroke-width="0.9" />
<circle cx="528.75" cy="843.6" r="0.95" fill="none" stroke="#808080" stroke-width="0.5"/>
<circle cx="528.75" cy="849.3" r="0.95" fill="none" stroke="#808080" stroke-width="0.5"/>
<rect x="532.62" y="843.30" width="2.80" height="38.30" fill="#F4989E" stroke="#E87880" stroke-width="0.8" />
<line x1="534.02" y1="839.89" x2="534.02" y2="846.71" stroke="#7a7a7a" stroke-width="0.55" />
<line x1="532.82" y1="839.89" x2="535.22" y2="839.89" stroke="#7a7a7a" stroke-width="0.55" />
<line x1="532.42" y1="843.30" x2="535.62" y2="843.30" stroke="#333" stroke-width="0.9" />
<circle cx="534.02" cy="840.9" r="0.95" fill="none" stroke="#808080" stroke-width="0.5"/>
<circle cx="534.02" cy="847.3" r="0.95" fill="none" stroke="#808080" stroke-width="0.5"/>
<rect x="537.89" y="845.40" width="2.80" height="36.20" fill="#F4989E" stroke="#E87880" stroke-width="0.8" />
<line x1="539.29" y1="841.96" x2="539.29" y2="848.84" stroke="#7a7a7a" stroke-width="0.55" />
<line x1="538.09" y1="841.96" x2="540.49" y2="841.96" stroke="#7a7a7a" stroke-width="0.55" />
<line x1="537.69" y1="845.40" x2="540.89" y2="845.40" stroke="#333" stroke-width="0.9" />
<circle cx="539.2900000000001" cy="843.5" r="0.95" fill="none" stroke="#808080" stroke-width="0.5"/>
<circle cx="539.2900000000001" cy="848.5" r="0.95" fill="none" stroke="#808080" stroke-width="0.5"/>
<path d="M546.3,885.6 L586.9,883.2 Q588.1,885.9 586.9,888.6 Z" fill="#fff" stroke="#333" stroke-width="0.6"/>
<path d="M546.3,885.9 L564.3,885.0 L564.3,886.9 Z" fill="#333"/>
<path d="M546.6999999999999,890.2 V893.2 H586.5 V890.2" fill="none" stroke="#333" stroke-width="0.75"/>
<text x="566.60" y="902.00" font-size="8.6" text-anchor="middle" fill="#1F6E35" font-weight="normal" >PN 1μM</text>
<rect x="546.60" y="833.20" width="2.80" height="48.40" fill="#FF5E72" stroke="#F0405A" stroke-width="0.8" />
<line x1="548.00" y1="831.39" x2="548.00" y2="835.01" stroke="#7a7a7a" stroke-width="0.55" />
<line x1="546.80" y1="831.39" x2="549.20" y2="831.39" stroke="#7a7a7a" stroke-width="0.55" />
<line x1="546.40" y1="833.20" x2="549.60" y2="833.20" stroke="#333" stroke-width="0.9" />
<circle cx="548.0" cy="832.0" r="0.95" fill="none" stroke="#808080" stroke-width="0.5"/>
<circle cx="548.0" cy="836.5" r="0.95" fill="none" stroke="#808080" stroke-width="0.5"/>
<rect x="551.87" y="837.40" width="2.80" height="44.20" fill="#FF5E72" stroke="#F0405A" stroke-width="0.8" />
<line x1="553.27" y1="834.95" x2="553.27" y2="839.85" stroke="#7a7a7a" stroke-width="0.55" />
<line x1="552.07" y1="834.95" x2="554.47" y2="834.95" stroke="#7a7a7a" stroke-width="0.55" />
<line x1="551.67" y1="837.40" x2="554.87" y2="837.40" stroke="#333" stroke-width="0.9" />
<circle cx="553.27" cy="836.1" r="0.95" fill="none" stroke="#808080" stroke-width="0.5"/>
<circle cx="553.27" cy="839.8" r="0.95" fill="none" stroke="#808080" stroke-width="0.5"/>
<rect x="557.14" y="839.00" width="2.80" height="42.60" fill="#FF5E72" stroke="#F0405A" stroke-width="0.8" />
<line x1="558.54" y1="836.57" x2="558.54" y2="841.43" stroke="#7a7a7a" stroke-width="0.55" />
<line x1="557.34" y1="836.57" x2="559.74" y2="836.57" stroke="#7a7a7a" stroke-width="0.55" />
<line x1="556.94" y1="839.00" x2="560.14" y2="839.00" stroke="#333" stroke-width="0.9" />
<circle cx="558.54" cy="837.3" r="0.95" fill="none" stroke="#808080" stroke-width="0.5"/>
<circle cx="558.54" cy="842.9" r="0.95" fill="none" stroke="#808080" stroke-width="0.5"/>
<rect x="562.41" y="819.20" width="2.80" height="62.40" fill="#FF5E72" stroke="#F0405A" stroke-width="0.8" />
<line x1="563.81" y1="816.75" x2="563.81" y2="821.65" stroke="#7a7a7a" stroke-width="0.55" />
<line x1="562.61" y1="816.75" x2="565.01" y2="816.75" stroke="#7a7a7a" stroke-width="0.55" />
<line x1="562.21" y1="819.20" x2="565.41" y2="819.20" stroke="#333" stroke-width="0.9" />
<circle cx="563.81" cy="817.4" r="0.95" fill="none" stroke="#808080" stroke-width="0.5"/>
<circle cx="563.81" cy="822.7" r="0.95" fill="none" stroke="#808080" stroke-width="0.5"/>
<rect x="567.68" y="811.00" width="2.80" height="70.60" fill="#FF5E72" stroke="#F0405A" stroke-width="0.8" />
<line x1="569.08" y1="808.42" x2="569.08" y2="813.58" stroke="#7a7a7a" stroke-width="0.55" />
<line x1="567.88" y1="808.42" x2="570.28" y2="808.42" stroke="#7a7a7a" stroke-width="0.55" />
<line x1="567.48" y1="811.00" x2="570.68" y2="811.00" stroke="#333" stroke-width="0.9" />
<circle cx="569.08" cy="809.4" r="0.95" fill="none" stroke="#808080" stroke-width="0.5"/>
<circle cx="569.08" cy="814.3" r="0.95" fill="none" stroke="#808080" stroke-width="0.5"/>
<rect x="572.95" y="808.20" width="2.80" height="73.40" fill="#FF5E72" stroke="#F0405A" stroke-width="0.8" />
<line x1="574.35" y1="804.94" x2="574.35" y2="811.46" stroke="#7a7a7a" stroke-width="0.55" />
<line x1="573.15" y1="804.94" x2="575.55" y2="804.94" stroke="#7a7a7a" stroke-width="0.55" />
<line x1="572.75" y1="808.20" x2="575.95" y2="808.20" stroke="#333" stroke-width="0.9" />
<circle cx="574.35" cy="806.2" r="0.95" fill="none" stroke="#808080" stroke-width="0.5"/>
<circle cx="574.35" cy="812.5" r="0.95" fill="none" stroke="#808080" stroke-width="0.5"/>
<rect x="578.22" y="809.20" width="2.80" height="72.40" fill="#FF5E72" stroke="#F0405A" stroke-width="0.8" />
<line x1="579.62" y1="806.55" x2="579.62" y2="811.85" stroke="#7a7a7a" stroke-width="0.55" />
<line x1="578.42" y1="806.55" x2="580.82" y2="806.55" stroke="#7a7a7a" stroke-width="0.55" />
<line x1="578.02" y1="809.20" x2="581.22" y2="809.20" stroke="#333" stroke-width="0.9" />
<circle cx="579.62" cy="807.7" r="0.95" fill="none" stroke="#808080" stroke-width="0.5"/>
<circle cx="579.62" cy="812.6" r="0.95" fill="none" stroke="#808080" stroke-width="0.5"/>
<rect x="583.49" y="809.20" width="2.80" height="72.40" fill="#FF5E72" stroke="#F0405A" stroke-width="0.8" />
<line x1="584.89" y1="805.96" x2="584.89" y2="812.44" stroke="#7a7a7a" stroke-width="0.55" />
<line x1="583.69" y1="805.96" x2="586.09" y2="805.96" stroke="#7a7a7a" stroke-width="0.55" />
<line x1="583.29" y1="809.20" x2="586.49" y2="809.20" stroke="#333" stroke-width="0.9" />
<circle cx="584.89" cy="807.5" r="0.95" fill="none" stroke="#808080" stroke-width="0.5"/>
<circle cx="584.89" cy="812.6" r="0.95" fill="none" stroke="#808080" stroke-width="0.5"/>
<line x1="40.10" y1="881.60" x2="589.00" y2="881.60" stroke="#000" stroke-width="1.4" />
<text x="594.60" y="889.80" font-size="8.6" text-anchor="start" fill="#000" font-weight="normal" >PN added to B6-depl.</text>
<text x="593.80" y="900.80" font-size="8.6" text-anchor="start" fill="#2A8A3A" font-weight="normal" >Conditioning media</text>
<text x="1.80" y="486.20" font-size="18" text-anchor="start" fill="#000" font-weight="bold" >D</text>
<path d="M3.2,598.0 C3.0,592.2 4.2,587.7 5.2,583.0 C6.2,578.3 7.4,574.0 9.0,570.0 C10.6,566.0 13.1,562.3 15.0,559.0 C16.9,555.7 18.4,552.8 20.4,550.0 C22.4,547.2 24.6,544.4 27.0,542.0 C29.4,539.6 32.2,537.7 34.7,535.7 C37.2,533.7 39.3,531.7 42.0,530.0 C44.7,528.3 48.1,526.7 51.1,525.4 C54.1,524.1 57.3,522.9 60.0,522.0 C62.7,521.1 64.7,520.8 67.4,520.3 C70.1,519.8 72.9,519.4 76.0,519.2 C79.1,519.0 82.5,518.8 85.8,518.9 C89.1,519.0 92.6,519.2 96.0,519.6 C99.4,520.0 103.3,520.6 106.3,521.3 C109.3,522.0 111.3,523.0 114.0,524.0 C116.7,525.0 119.8,526.2 122.6,527.5 C125.4,528.8 128.1,530.1 131.0,531.5 C133.9,532.9 136.8,534.2 140.0,535.7 C143.2,537.2 146.5,539.1 150.0,540.8 C153.5,542.4 155.7,544.0 161.0,545.6 C166.3,547.2 175.8,549.3 182.0,550.2 C188.2,551.1 192.7,551.5 198.0,551.2 C203.3,550.9 208.5,549.9 214.0,548.6 C219.5,547.3 226.5,545.0 231.0,543.5 C235.5,542.0 235.8,541.3 241.0,539.3 C246.2,537.2 255.2,533.7 262.0,531.2 C268.8,528.7 275.3,526.0 282.0,524.5 C288.7,523.0 295.7,522.3 302.0,522.2 C308.3,522.1 314.2,522.4 320.0,523.8 C325.8,525.2 332.0,527.8 337.0,530.5 C342.0,533.2 346.1,536.5 350.0,540.0 C353.9,543.5 357.4,547.9 360.3,551.7 C363.2,555.5 365.8,558.9 367.5,563.0 C369.2,567.1 369.9,571.6 370.7,576.6 C371.5,581.6 372.2,587.7 372.5,593.3 C372.8,598.9 372.9,604.5 372.5,610.0 C372.1,615.5 371.4,621.1 370.0,626.6 C368.6,632.1 366.5,637.7 364.0,643.2 C361.5,648.7 358.5,654.8 355.0,659.8 C351.5,664.8 347.4,669.1 343.2,673.0 C339.0,676.9 335.0,679.9 330.0,683.0 C325.0,686.1 318.8,688.8 313.3,691.4 C307.8,694.0 302.9,696.1 297.0,698.5 C291.1,700.9 285.2,703.9 277.6,706.0 C270.0,708.1 260.2,709.9 251.4,711.0 C242.6,712.1 233.7,712.5 225.0,712.8 C216.3,713.1 207.8,713.1 199.0,712.8 C190.2,712.5 181.3,711.7 172.5,711.0 C163.7,710.3 154.7,709.6 146.3,708.4 C137.9,707.2 128.4,705.5 122.0,704.0 C115.6,702.5 113.3,701.4 108.0,699.5 C102.7,697.6 96.0,695.0 90.0,692.5 C84.0,690.0 78.0,687.6 72.0,684.5 C66.0,681.4 59.7,677.8 54.0,674.0 C48.3,670.2 42.8,666.1 38.0,662.0 C33.2,657.9 29.0,654.3 25.0,649.5 C21.0,644.7 17.1,638.3 14.0,633.0 C10.9,627.7 8.3,623.3 6.5,617.5 C4.7,611.7 3.4,603.8 3.2,598.0Z" fill="#FCEEEB" stroke="none"/>
<path d="M3.2,598.0 C3.0,592.2 4.2,587.7 5.2,583.0 C6.2,578.3 7.4,574.0 9.0,570.0 C10.6,566.0 13.1,562.3 15.0,559.0 C16.9,555.7 18.4,552.8 20.4,550.0 C22.4,547.2 24.6,544.4 27.0,542.0 C29.4,539.6 32.2,537.7 34.7,535.7 C37.2,533.7 39.3,531.7 42.0,530.0 C44.7,528.3 48.1,526.7 51.1,525.4 C54.1,524.1 57.3,522.9 60.0,522.0 C62.7,521.1 64.7,520.8 67.4,520.3 C70.1,519.8 72.9,519.4 76.0,519.2 C79.1,519.0 82.5,518.8 85.8,518.9 C89.1,519.0 92.6,519.2 96.0,519.6 C99.4,520.0 103.3,520.6 106.3,521.3 C109.3,522.0 111.3,523.0 114.0,524.0 C116.7,525.0 119.8,526.2 122.6,527.5 C125.4,528.8 128.1,530.1 131.0,531.5 C133.9,532.9 136.8,534.2 140.0,535.7 C143.2,537.2 146.5,539.1 150.0,540.8 C153.5,542.4 155.7,544.0 161.0,545.6 C166.3,547.2 175.8,549.3 182.0,550.2 C188.2,551.1 192.7,551.5 198.0,551.2 C203.3,550.9 208.5,549.9 214.0,548.6 C219.5,547.3 226.5,545.0 231.0,543.5 C235.5,542.0 235.8,541.3 241.0,539.3 C246.2,537.2 255.2,533.7 262.0,531.2 C268.8,528.7 275.3,526.0 282.0,524.5 C288.7,523.0 295.7,522.3 302.0,522.2 C308.3,522.1 314.2,522.4 320.0,523.8 C325.8,525.2 332.0,527.8 337.0,530.5 C342.0,533.2 346.1,536.5 350.0,540.0 C353.9,543.5 357.4,547.9 360.3,551.7 C363.2,555.5 365.8,558.9 367.5,563.0 C369.2,567.1 369.9,571.6 370.7,576.6 C371.5,581.6 372.2,587.7 372.5,593.3 C372.8,598.9 372.9,604.5 372.5,610.0 C372.1,615.5 371.4,621.1 370.0,626.6 C368.6,632.1 366.5,637.7 364.0,643.2 C361.5,648.7 358.5,654.8 355.0,659.8 C351.5,664.8 347.4,669.1 343.2,673.0 C339.0,676.9 335.0,679.9 330.0,683.0 C325.0,686.1 318.8,688.8 313.3,691.4 C307.8,694.0 302.9,696.1 297.0,698.5 C291.1,700.9 285.2,703.9 277.6,706.0 C270.0,708.1 260.2,709.9 251.4,711.0 C242.6,712.1 233.7,712.5 225.0,712.8 C216.3,713.1 207.8,713.1 199.0,712.8 C190.2,712.5 181.3,711.7 172.5,711.0 C163.7,710.3 154.7,709.6 146.3,708.4 C137.9,707.2 128.4,705.5 122.0,704.0 C115.6,702.5 113.3,701.4 108.0,699.5 C102.7,697.6 96.0,695.0 90.0,692.5 C84.0,690.0 78.0,687.6 72.0,684.5 C66.0,681.4 59.7,677.8 54.0,674.0 C48.3,670.2 42.8,666.1 38.0,662.0 C33.2,657.9 29.0,654.3 25.0,649.5 C21.0,644.7 17.1,638.3 14.0,633.0 C10.9,627.7 8.3,623.3 6.5,617.5 C4.7,611.7 3.4,603.8 3.2,598.0Z" fill="none" stroke="#FBF0ED" stroke-width="3.6"/>
<path d="M3.2,598.0 C3.0,592.2 4.2,587.7 5.2,583.0 C6.2,578.3 7.4,574.0 9.0,570.0 C10.6,566.0 13.1,562.3 15.0,559.0 C16.9,555.7 18.4,552.8 20.4,550.0 C22.4,547.2 24.6,544.4 27.0,542.0 C29.4,539.6 32.2,537.7 34.7,535.7 C37.2,533.7 39.3,531.7 42.0,530.0 C44.7,528.3 48.1,526.7 51.1,525.4 C54.1,524.1 57.3,522.9 60.0,522.0 C62.7,521.1 64.7,520.8 67.4,520.3 C70.1,519.8 72.9,519.4 76.0,519.2 C79.1,519.0 82.5,518.8 85.8,518.9 C89.1,519.0 92.6,519.2 96.0,519.6 C99.4,520.0 103.3,520.6 106.3,521.3 C109.3,522.0 111.3,523.0 114.0,524.0 C116.7,525.0 119.8,526.2 122.6,527.5 C125.4,528.8 128.1,530.1 131.0,531.5 C133.9,532.9 136.8,534.2 140.0,535.7 C143.2,537.2 146.5,539.1 150.0,540.8 C153.5,542.4 155.7,544.0 161.0,545.6 C166.3,547.2 175.8,549.3 182.0,550.2 C188.2,551.1 192.7,551.5 198.0,551.2 C203.3,550.9 208.5,549.9 214.0,548.6 C219.5,547.3 226.5,545.0 231.0,543.5 C235.5,542.0 235.8,541.3 241.0,539.3 C246.2,537.2 255.2,533.7 262.0,531.2 C268.8,528.7 275.3,526.0 282.0,524.5 C288.7,523.0 295.7,522.3 302.0,522.2 C308.3,522.1 314.2,522.4 320.0,523.8 C325.8,525.2 332.0,527.8 337.0,530.5 C342.0,533.2 346.1,536.5 350.0,540.0 C353.9,543.5 357.4,547.9 360.3,551.7 C363.2,555.5 365.8,558.9 367.5,563.0 C369.2,567.1 369.9,571.6 370.7,576.6 C371.5,581.6 372.2,587.7 372.5,593.3 C372.8,598.9 372.9,604.5 372.5,610.0 C372.1,615.5 371.4,621.1 370.0,626.6 C368.6,632.1 366.5,637.7 364.0,643.2 C361.5,648.7 358.5,654.8 355.0,659.8 C351.5,664.8 347.4,669.1 343.2,673.0 C339.0,676.9 335.0,679.9 330.0,683.0 C325.0,686.1 318.8,688.8 313.3,691.4 C307.8,694.0 302.9,696.1 297.0,698.5 C291.1,700.9 285.2,703.9 277.6,706.0 C270.0,708.1 260.2,709.9 251.4,711.0 C242.6,712.1 233.7,712.5 225.0,712.8 C216.3,713.1 207.8,713.1 199.0,712.8 C190.2,712.5 181.3,711.7 172.5,711.0 C163.7,710.3 154.7,709.6 146.3,708.4 C137.9,707.2 128.4,705.5 122.0,704.0 C115.6,702.5 113.3,701.4 108.0,699.5 C102.7,697.6 96.0,695.0 90.0,692.5 C84.0,690.0 78.0,687.6 72.0,684.5 C66.0,681.4 59.7,677.8 54.0,674.0 C48.3,670.2 42.8,666.1 38.0,662.0 C33.2,657.9 29.0,654.3 25.0,649.5 C21.0,644.7 17.1,638.3 14.0,633.0 C10.9,627.7 8.3,623.3 6.5,617.5 C4.7,611.7 3.4,603.8 3.2,598.0Z" fill="none" stroke="#B48478" stroke-width="3.6" stroke-dasharray="0.65 0.8"/>
<path d="M28.0,572.0 C28.3,569.1 29.4,566.5 31.5,563.3 C33.5,560.1 36.8,555.7 40.3,552.8 C43.8,549.9 48.2,547.5 52.6,545.8 C57.0,544.0 62.5,543.0 66.6,542.3 C70.7,541.6 74.2,541.1 77.1,541.4 C80.0,541.7 82.6,541.5 84.1,544.0 C85.5,546.5 85.4,551.3 85.8,556.3 C86.2,561.3 86.1,569.1 86.7,573.8 C87.3,578.5 88.0,582.3 89.3,584.3 C90.6,586.3 92.5,586.3 94.6,586.0 C96.6,585.7 99.5,584.9 101.6,582.6 C103.6,580.3 105.2,576.4 106.9,572.0 C108.7,567.6 110.3,560.1 112.1,556.3 C113.8,552.5 115.5,549.8 117.4,549.3 C119.3,548.8 121.2,551.5 123.5,553.0 C125.8,554.5 126.4,556.2 131.0,558.0 C135.6,559.8 144.2,562.5 151.0,564.0 C157.8,565.5 166.9,566.0 171.5,567.0 C176.1,568.0 177.0,568.1 178.7,570.0 C180.4,571.9 180.5,574.8 181.7,578.3 C182.9,581.8 183.8,588.0 185.8,590.7 C187.9,593.4 191.6,595.1 194.0,594.7 C196.4,594.4 198.6,591.4 200.1,588.6 C201.6,585.8 201.6,580.9 203.0,578.0 C204.4,575.1 206.5,572.6 208.7,571.0 C210.8,569.4 210.5,570.4 215.9,568.2 C221.3,566.0 233.7,560.5 241.3,558.0 C248.9,555.5 256.6,553.3 261.7,553.0 C266.8,552.7 269.5,553.1 272.0,556.0 C274.5,558.9 275.5,566.4 276.7,570.4 C277.9,574.4 277.6,577.6 279.0,579.7 C280.4,581.8 283.1,583.8 284.9,583.2 C286.7,582.6 289.0,579.0 290.0,576.0 C291.0,573.0 290.5,568.7 291.0,565.0 C291.5,561.3 291.5,557.2 293.0,554.0 C294.5,550.8 297.3,547.5 300.0,545.8 C302.7,544.0 305.5,543.1 309.4,543.5 C313.3,543.9 319.1,546.1 323.4,548.2 C327.7,550.4 332.4,553.5 335.1,556.4 C337.8,559.3 339.4,562.6 339.8,565.7 C340.2,568.8 339.4,572.9 337.5,575.0 C335.6,577.1 330.8,576.9 328.1,578.5 C325.4,580.1 321.9,582.0 321.1,584.4 C320.3,586.8 321.1,591.6 323.4,592.6 C325.7,593.6 331.2,591.0 335.1,590.2 C339.0,589.4 344.1,587.3 346.8,587.9 C349.5,588.5 350.7,589.2 351.5,593.7 C352.3,598.2 352.3,608.2 351.5,614.8 C350.7,621.4 349.5,628.3 346.8,633.4 C344.1,638.5 339.0,642.8 335.1,645.1 C331.2,647.5 327.3,648.3 323.4,647.5 C319.5,646.7 315.3,642.5 311.8,640.4 C308.3,638.2 304.8,635.0 302.4,634.6 C300.0,634.2 298.3,635.6 297.7,638.1 C297.1,640.6 298.5,645.5 298.9,649.8 C299.3,654.1 301.1,659.8 300.1,663.8 C299.1,667.8 295.7,671.6 293.0,674.0 C290.3,676.4 287.2,676.6 283.7,678.0 C280.2,679.4 277.1,681.0 272.0,682.5 C266.9,684.0 258.7,687.0 253.4,687.2 C248.1,687.5 243.1,686.5 240.0,684.0 C236.9,681.5 236.4,675.6 234.9,672.0 C233.4,668.4 232.9,664.0 230.8,662.2 C228.8,660.4 224.7,660.5 222.6,661.2 C220.5,661.9 219.5,662.7 218.5,666.3 C217.5,669.9 217.8,678.4 216.5,682.6 C215.2,686.9 214.2,689.9 210.4,691.8 C206.7,693.7 200.5,693.7 194.0,693.9 C187.5,694.1 179.3,693.5 171.5,692.8 C163.7,692.1 152.3,691.5 147.0,689.8 C141.7,688.1 141.6,685.8 139.9,682.6 C138.2,679.4 137.2,674.8 136.8,670.4 C136.5,666.0 138.2,659.9 137.8,656.0 C137.5,652.1 136.2,648.6 134.7,646.9 C133.2,645.2 130.5,645.3 128.6,645.8 C126.7,646.3 124.9,647.3 123.5,650.0 C122.1,652.7 122.6,658.6 120.4,662.2 C118.2,665.8 113.6,669.7 110.2,671.4 C106.8,673.1 102.6,672.6 100.0,672.4 C97.4,672.2 97.2,671.6 94.6,670.0 C91.9,668.4 86.7,665.9 84.1,663.0 C81.5,660.1 80.0,656.4 78.8,652.6 C77.6,648.8 78.0,643.5 77.1,640.3 C76.2,637.1 75.3,634.6 73.6,633.3 C71.8,632.0 68.6,632.1 66.6,632.4 C64.5,632.7 63.3,634.1 61.3,635.0 C59.2,635.9 56.6,636.8 54.3,637.5 C52.0,638.2 49.6,640.2 47.3,639.5 C45.0,638.8 42.9,635.9 40.3,633.4 C37.7,630.9 33.8,627.8 31.5,624.6 C29.2,621.4 26.9,617.3 26.3,614.1 C25.7,610.9 26.0,607.3 28.0,605.3 C30.0,603.2 34.7,602.7 38.5,601.8 C42.3,600.9 47.7,600.9 50.8,600.0 C53.9,599.1 55.7,598.2 56.9,596.6 C58.1,595.0 58.8,592.3 57.8,590.4 C56.8,588.5 54.0,586.5 50.8,585.2 C47.6,583.9 42.0,583.3 38.5,582.6 C35.0,581.9 31.6,582.6 29.8,580.8 C28.1,579.0 27.7,574.9 28.0,572.0Z" fill="#FFF9F8" stroke="#D4907F" stroke-width="2.1" stroke-linejoin="round"/>
<path d="M119.00,527.11 L125.10,602.11 M121.60,526.89 L127.70,601.89" fill="none" stroke="#222" stroke-width="0.6"/>
<path d="M126.52,603.50 L124.37,600.46 L128.16,600.15Z" fill="#111"/>
<path d="M120.18,525.50 L122.33,528.54 L118.54,528.85Z" fill="#111"/>
<path d="M201.90,520.11 L209.00,604.11 M204.50,519.89 L211.60,603.89" fill="none" stroke="#222" stroke-width="0.6"/>
<path d="M210.43,605.49 L208.26,602.47 L212.05,602.15Z" fill="#111"/>
<path d="M203.07,518.51 L205.24,521.53 L201.45,521.85Z" fill="#111"/>
<path d="M285.90,519.09 L291.70,604.09 M288.50,518.91 L294.30,603.91" fill="none" stroke="#222" stroke-width="0.6"/>
<path d="M293.10,605.50 L290.99,602.43 L294.78,602.17Z" fill="#111"/>
<path d="M287.10,517.50 L289.21,520.57 L285.42,520.83Z" fill="#111"/>
<g transform="translate(123.5,555) rotate(0)"><ellipse cx="0" cy="0" rx="7.6" ry="10.2" fill="#C8CFEA" stroke="#5566A8" stroke-width="0.8"/><text x="0" y="1.57" font-size="4.5" text-anchor="middle" fill="#6a6ac0" transform="rotate(90)">?</text></g>
<g transform="translate(208.7,571) rotate(0)"><ellipse cx="0" cy="0" rx="7.2" ry="11" fill="#E6F2FC" stroke="#6EA6DC" stroke-width="0.8"/><text x="0" y="-0.88" font-size="5.0" text-anchor="middle" fill="#3d8ad0" transform="rotate(90)">SLC25</text><text x="0" y="4.38" font-size="5.0" text-anchor="middle" fill="#3d8ad0" transform="rotate(90)">A38</text></g>
<rect x="284.2" y="557.8" width="12.6" height="22.6" rx="6.3" fill="#DDF0D4" stroke="#4E8E3C" stroke-width="0.8"/>
<text x="0" y="0" font-size="5.2" text-anchor="middle" fill="#3e7e2c" transform="translate(288.7,569.1) rotate(90)">SFXN1</text>
<path d="M59.27,515.79 L60.87,508.79 M56.73,515.21 L58.33,508.21" fill="none" stroke="#222" stroke-width="0.6"/>
<path d="M59.93,507.04 L61.07,510.58 L57.37,509.73Z" fill="#111"/>
<path d="M54.93,535.77 L55.63,539.07 M57.47,535.23 L58.17,538.53" fill="none" stroke="#222" stroke-width="0.6"/>
<path d="M57.21,540.27 L54.69,537.53 L58.41,536.74Z" fill="#111"/>
<g transform="translate(59.3,523.3) rotate(14)"><ellipse cx="0" cy="0" rx="7.6" ry="9.8" fill="#DCDCDC" stroke="#555" stroke-width="0.8"/><text x="0" y="1.61" font-size="4.6" text-anchor="middle" fill="#777" transform="rotate(90)">ABCB6</text></g>
<path d="M54.8,537.5 C51,541.5 47,543.8 43,544.8" fill="none" stroke="#222" stroke-width="0.8" marker-end="url(#ah)" marker-start="url(#ah)"/>
<path d="M39.7,546.1 C32,553 36,565 50,567.2" fill="none" stroke="#222" stroke-width="0.8" marker-end="url(#ah)" />
<path d="M46,555.5 C41,557 38.5,560 38.2,562" fill="none" stroke="#222" stroke-width="0.8"/>
<circle cx="51.2" cy="552.8" r="5.5" fill="#C9502B" stroke="#7a2a10" stroke-width="0.6"/>
<text x="51.2" y="554.5" font-size="4.8" text-anchor="middle" fill="#fff">Fe</text>
<path d="M51.2,565 L63.1,561.3 L75,565 L75,573 L63.1,576.7 L51.2,573Z" fill="#C8333B" stroke="#5a1010" stroke-width="0.7"/>
<text x="63.10" y="572.50" font-size="7.2" text-anchor="middle" fill="#2a0505" font-weight="normal" >HEME</text>
<path d="M118.5,507.5 V489" fill="none" stroke="#222" stroke-width="0.9" marker-end="url(#ah)" />
<path d="M118.5,488 C118.5,478 108,472.5 94.5,472.5" fill="none" stroke="#222" stroke-width="0.9" marker-end="url(#ah)" />
<path d="M94,472.5 C75,472.5 63,482 61.6,496.5" fill="none" stroke="#222" stroke-width="0.9" marker-end="url(#ah)" />
<text x="13.00" y="505.20" font-size="7.5" text-anchor="start" fill="#1a1a1a" font-weight="normal" >Coproporphyrinogen III</text>
<text x="108.00" y="515.20" font-size="7.55" text-anchor="start" fill="#1a1a1a" font-weight="normal" >5-ALA</text>
<text x="200.40" y="467.20" font-size="7.55" text-anchor="start" fill="#1a1a1a" font-weight="normal" >Formate</text>
<text x="201.5" y="489.7" font-size="7.55" fill="#1a1a1a">CH<tspan font-size="4.5" dy="1.5">2</tspan><tspan dy="-1.5">-THF</tspan></text>
<path d="M214.5,481.5 V471" fill="none" stroke="#222" stroke-width="0.9" marker-end="url(#ah)" />
<text x="187.80" y="512.80" font-size="7.55" text-anchor="start" fill="#A82C37" font-weight="normal" >Glycine</text>
<text x="273.00" y="512.80" font-size="7.55" text-anchor="start" fill="#4A7CC8" font-weight="normal" >Serine</text>
<path d="M216.5,510.5 H271" fill="none" stroke="#222" stroke-width="0.9" marker-end="url(#ah)" marker-start="url(#ah)"/>
<path d="M235,510.3 C227,508.5 220.5,502 218.3,494" fill="none" stroke="#222" stroke-width="0.8" marker-end="url(#ah)" />
<text x="234.20" y="508.10" font-size="7.1" text-anchor="start" fill="#D43DB0" font-weight="normal" >SHMT1</text>
<line x1="254.2" y1="498.4" x2="252.6" y2="500.5" stroke="#8a6010" stroke-width="0.6"/>
<ellipse cx="257.3" cy="494.7" rx="6" ry="5.2" fill="#EDC200" stroke="#7a5808" stroke-width="0.6"/>
<text x="257.3" y="496.6" font-size="5.4" text-anchor="middle" fill="#2a2000">PLP</text>
<text x="274.00" y="481.50" font-size="7.55" text-anchor="start" fill="#1a1a1a" font-weight="normal" >3-Phospho-Serine</text>
<path d="M286.5,484 V503.5" fill="none" stroke="#222" stroke-width="0.9" marker-end="url(#ah)" />
<path d="M333.7,497.8 L325,484.5" fill="none" stroke="#222" stroke-width="0.8" marker-end="url(#ah)" />
<text x="332.70" y="493.20" font-size="7.1" text-anchor="start" fill="#D43DB0" font-weight="normal" >PSAT1</text>
<line x1="347.4" y1="483.5" x2="345.8" y2="485.6" stroke="#8a6010" stroke-width="0.6"/>
<ellipse cx="350.5" cy="479.8" rx="6" ry="5.2" fill="#EDC200" stroke="#7a5808" stroke-width="0.6"/>
<text x="350.5" y="481.7" font-size="5.4" text-anchor="middle" fill="#2a2000">PLP</text>
<text x="316.30" y="506.10" font-size="7.55" text-anchor="start" fill="#1a1a1a" font-weight="normal" >3-Phospho-</text>
<text x="316.30" y="514.20" font-size="7.55" text-anchor="start" fill="#1a1a1a" font-weight="normal" >hydroxy-pyruvate</text>
<path d="M370.5,528.3 L362.8,515.5" fill="none" stroke="#222" stroke-width="0.8" marker-end="url(#ah)" />
<text x="354.20" y="535.20" font-size="7.55" text-anchor="start" fill="#1a1a1a" font-weight="normal" >Glycolysis</text>
<text x="118.80" y="615.20" font-size="7.55" text-anchor="start" fill="#1a1a1a" font-weight="normal" >5-ALA</text>
<text x="203.80" y="615.70" font-size="7.55" text-anchor="start" fill="#A82C37" font-weight="normal" >Glycine</text>
<text x="283.70" y="615.60" font-size="7.55" text-anchor="start" fill="#4A7CC8" font-weight="normal" >Serine</text>
<path d="M201,613.5 H143.5" fill="none" stroke="#222" stroke-width="0.9" marker-end="url(#ah)" />
<path d="M234,614.5 H281" fill="none" stroke="#222" stroke-width="0.9" marker-end="url(#ah)" marker-start="url(#ah)"/>
<path d="M215.5,619.5 V646.5" fill="none" stroke="#222" stroke-width="0.9" marker-end="url(#ah)" />
<path d="M246.4,614.8 C236,620 228,632 226,646.5" fill="none" stroke="#222" stroke-width="0.8" marker-end="url(#ah)" />
<text x="203.8" y="658.2" font-size="7.55" fill="#1a1a1a">CH<tspan font-size="4.5" dy="1.5">2</tspan><tspan dy="-1.5">-THF</tspan></text>
<path d="M201.2,659.8 L189.5,671.8" fill="none" stroke="#222" stroke-width="0.8" marker-end="url(#ah)" />
<text x="158.20" y="676.60" font-size="7.55" text-anchor="start" fill="#1a1a1a" font-weight="normal" >Formate</text>
<text x="239.80" y="567.70" font-size="5.6" text-anchor="start" fill="#1a1a1a" font-weight="normal" >2-amino-3-</text>
<text x="239.80" y="573.40" font-size="5.6" text-anchor="start" fill="#1a1a1a" font-weight="normal" >ketobutyrate</text>
<path d="M253,575 C252,590 240,602 228.5,607.8" fill="none" stroke="#222" stroke-width="0.8" marker-end="url(#ah)" />
<text x="226.50" y="597.40" font-size="7.1" text-anchor="start" fill="#D43DB0" font-weight="normal" >GCAT</text>
<line x1="238.1" y1="586.4" x2="236.5" y2="588.5" stroke="#8a6010" stroke-width="0.6"/>
<ellipse cx="241.2" cy="582.7" rx="6" ry="5.2" fill="#EDC200" stroke="#7a5808" stroke-width="0.6"/>
<text x="241.2" y="584.6" font-size="5.4" text-anchor="middle" fill="#2a2000">PLP</text>
<text x="245.90" y="621.60" font-size="7.1" text-anchor="start" fill="#D43DB0" font-weight="normal" >SHMT2</text>
<line x1="247.1" y1="625.5" x2="248.5" y2="623.3" stroke="#8a6010" stroke-width="0.6"/>
<ellipse cx="244.5" cy="629.5" rx="6" ry="5.2" fill="#EDC200" stroke="#7a5808" stroke-width="0.6"/>
<text x="244.5" y="631.4" font-size="5.4" text-anchor="middle" fill="#2a2000">PLP</text>
<text x="163.00" y="621.40" font-size="7.1" text-anchor="start" fill="#D43DB0" font-weight="normal" >ALAS2</text>
<line x1="161.3" y1="625.8" x2="162.9" y2="623.7" stroke="#8a6010" stroke-width="0.6"/>
<ellipse cx="158.2" cy="629.5" rx="6" ry="5.2" fill="#EDC200" stroke="#7a5808" stroke-width="0.6"/>
<text x="158.2" y="631.4" font-size="5.4" text-anchor="middle" fill="#2a2000">PLP</text>
<text x="199.10" y="638.80" font-size="7.1" text-anchor="start" fill="#D43DB0" font-weight="normal" >GCV</text>
<line x1="195.2" y1="633.9" x2="197.2" y2="635.4" stroke="#8a6010" stroke-width="0.6"/>
<ellipse cx="191" cy="631.1" rx="6" ry="5.2" fill="#EDC200" stroke="#7a5808" stroke-width="0.6"/>
<text x="191" y="633.0" font-size="5.4" text-anchor="middle" fill="#2a2000">PLP</text>
<path d="M51.97,625.93 L49.77,621.43 M49.63,627.07 L47.43,622.57" fill="none" stroke="#222" stroke-width="0.6"/>
<path d="M47.94,620.65 L51.05,622.69 L47.64,624.36Z" fill="#111"/>
<path d="M53.82,649.35 L56.02,654.05 M56.18,648.25 L58.38,652.95" fill="none" stroke="#222" stroke-width="0.6"/>
<path d="M57.84,654.86 L54.76,652.77 L58.20,651.15Z" fill="#111"/>
<g transform="translate(54.0,637.8) rotate(12)"><ellipse cx="0" cy="0" rx="7.4" ry="11.0" fill="#C9C9EE" stroke="#5A5AA8" stroke-width="0.8"/><text x="0" y="1.61" font-size="4.6" text-anchor="middle" fill="#7777c0" transform="rotate(90)">ABCB7</text></g>
<circle cx="49" cy="613.1" r="5.5" fill="#C9502B" stroke="#7a2a10" stroke-width="0.6"/>
<text x="49" y="614.8" font-size="4.8" text-anchor="middle" fill="#fff">Fe</text>
<circle cx="60.4" cy="662.2" r="5.5" fill="#C9502B" stroke="#7a2a10" stroke-width="0.6"/>
<text x="60.4" y="663.9" font-size="4.8" text-anchor="middle" fill="#fff">Fe</text>
<path d="M55.5,616 C59,620 63,621 68.5,620.3" fill="none" stroke="#222" stroke-width="0.8" marker-end="url(#ah)" />
<text x="69.70" y="623.70" font-size="7.1" text-anchor="start" fill="#D43DB0" font-weight="normal" >NFS1</text>
<line x1="80.6" y1="614.2" x2="79.2" y2="616.4" stroke="#8a6010" stroke-width="0.6"/>
<ellipse cx="83.2" cy="610.2" rx="6" ry="5.2" fill="#EDC200" stroke="#7a5808" stroke-width="0.6"/>
<text x="83.2" y="612.1" font-size="5.4" text-anchor="middle" fill="#2a2000">PLP</text>
<path d="M87.5,619.2 H93.5" fill="none" stroke="#222" stroke-width="0.8" marker-end="url(#ah)" />
<path d="M93,618.6 C97,618.6 99.5,620.5 99.8,624" fill="none" stroke="#222" stroke-width="0.8" marker-end="url(#ah)" />
<path d="M85.8,630.1 L89,626 L109.8,626 L113,630.1 L109.8,634.2 L89,634.2Z" fill="#CC6A22" stroke="#4a2208" stroke-width="0.7"/>
<text x="99.40" y="633.40" font-size="6.2" text-anchor="middle" fill="#2a1004" font-weight="normal" >2Fe-2S</text>
<text x="99.00" y="642.00" font-size="7.5" text-anchor="middle" fill="#D43DB0" font-weight="normal" >cluster</text>
<text x="99.20" y="649.40" font-size="7.4" text-anchor="middle" fill="#D43DB0" font-weight="normal" >assembly</text>
<path d="M267.66,665.86 L296.66,694.36 M269.34,664.14 L298.34,692.64" fill="none" stroke="#222" stroke-width="0.6"/>
<path d="M298.57,694.55 L294.96,693.66 L297.62,690.95Z" fill="#111"/>
<path d="M267.43,663.95 L271.04,664.84 L268.38,667.55Z" fill="#111"/>
<path d="M279.36,662.35 L307.16,689.85 M281.04,660.65 L308.84,688.15" fill="none" stroke="#222" stroke-width="0.6"/>
<path d="M309.07,690.05 L305.46,689.16 L308.13,686.45Z" fill="#111"/>
<path d="M279.13,660.45 L282.74,661.34 L280.07,664.05Z" fill="#111"/>
<g transform="translate(293.6,673) rotate(-35)"><ellipse rx="9.5" ry="8.2" fill="#C8333B" stroke="#6a1010" stroke-width="0.7"/><text y="1.6" font-size="4.5" text-anchor="middle" fill="#3a0505">???</text></g>
<g transform="translate(283.7,677.8) rotate(-55)"><ellipse cx="0" cy="0" rx="7.3" ry="10" fill="#E6F2FC" stroke="#6EA6DC" stroke-width="0.8"/><text x="0" y="-0.77" font-size="4.4" text-anchor="middle" fill="#3d8ad0" transform="rotate(90)">SLC25</text><text x="0" y="3.85" font-size="4.4" text-anchor="middle" fill="#3d8ad0" transform="rotate(90)">A39?</text></g>
<ellipse cx="273.9" cy="652.8" rx="6" ry="5.2" fill="#EDC200" stroke="#7a5808" stroke-width="0.6"/>
<text x="273.9" y="654.7" font-size="5.4" text-anchor="middle" fill="#2a2000">PLP</text>
<ellipse cx="262.7" cy="659.1" rx="6" ry="5.2" fill="#EDC200" stroke="#7a5808" stroke-width="0.6"/>
<text x="262.7" y="661.0" font-size="5.4" text-anchor="middle" fill="#2a2000">PLP</text>
<ellipse cx="316" cy="693.7" rx="6" ry="5.2" fill="#EDC200" stroke="#7a5808" stroke-width="0.6"/>
<text x="316" y="695.6" font-size="5.4" text-anchor="middle" fill="#2a2000">PLP</text>
<ellipse cx="302.9" cy="701.2" rx="6" ry="5.2" fill="#EDC200" stroke="#7a5808" stroke-width="0.6"/>
<text x="302.9" y="703.1" font-size="5.4" text-anchor="middle" fill="#2a2000">PLP</text>
</svg></body></html>
